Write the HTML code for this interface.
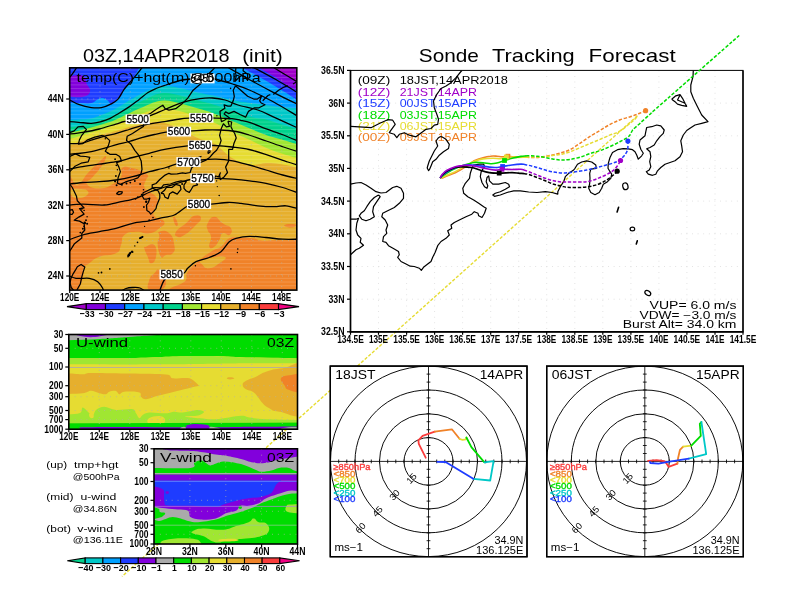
<!DOCTYPE html>
<html lang="en"><head><meta charset="utf-8"><title>Sonde Tracking Forecast</title>
<style>
html,body{margin:0;padding:0;background:#fff;}
body{width:792px;height:612px;overflow:hidden;}
svg{display:block;font-family:"Liberation Sans",sans-serif;}
</style></head><body>
<svg width="792" height="612" viewBox="0 0 792 612">
<defs>
<clipPath id="c1"><rect x="69.7" y="67.8" width="227.1" height="222.3"/></clipPath>
<clipPath id="c2"><rect x="68.8" y="334.5" width="228.7" height="94.7"/></clipPath>
<clipPath id="c3"><rect x="154.0" y="448.8" width="143.5" height="95.2"/></clipPath>
<clipPath id="cm"><rect x="350.5" y="70.4" width="392.5" height="261.4"/></clipPath>
<clipPath id="ch1"><rect x="330.3" y="366.1" width="196.7" height="190.6"/></clipPath>
<clipPath id="ch2"><rect x="546.7" y="366.1" width="196.6" height="190.6"/></clipPath>
</defs>
<path d="M637.5,115.7 L122,576.5" fill="none" stroke="#e6dc32" stroke-width="1.4" stroke-dasharray="3.2 1.7"/>
<rect x="69.7" y="67.8" width="227.1" height="222.3" fill="#e6af2d" stroke="none" stroke-width="1.5"/>
<g clip-path="url(#c1)">
<path d="M66.0,146.5 C68.1,145.8 74.4,143.5 78.6,142.0 C82.8,140.5 86.8,139.0 91.0,137.7 C95.2,136.4 99.8,135.1 104.0,134.0 C108.2,132.9 109.7,132.7 116.0,131.0 C122.3,129.3 133.8,125.3 142.0,124.0 C150.2,122.7 155.3,120.5 165.0,123.0 C174.7,125.5 191.7,135.5 200.0,139.0 C208.3,142.5 209.7,140.8 215.0,144.0 C220.3,147.2 226.2,154.5 232.0,158.0 C237.8,161.5 244.3,164.2 250.0,165.0 C255.7,165.8 261.0,163.2 266.0,163.0 C271.0,162.8 274.3,163.2 280.0,164.0 C285.7,164.8 296.7,167.3 300.0,168.0 L300,60 L66,60Z" fill="#e6dc32"/>
<path d="M66.0,140.0 C68.1,139.4 74.4,137.6 78.6,136.4 C82.8,135.2 86.8,133.9 91.0,132.6 C95.2,131.3 99.8,130.2 104.0,128.8 C108.2,127.4 109.7,126.5 116.0,124.0 C122.3,121.5 133.8,116.1 142.0,113.5 C150.2,110.9 155.3,107.9 165.0,108.5 C174.7,109.1 191.7,114.6 200.0,117.0 C208.3,119.4 209.7,120.5 215.0,123.0 C220.3,125.5 226.2,129.2 232.0,132.0 C237.8,134.8 244.3,137.4 250.0,140.0 C255.7,142.6 261.0,145.6 266.0,147.8 C271.0,150.0 274.3,151.1 280.0,153.0 C285.7,154.9 296.7,158.0 300.0,159.0 L300,60 L66,60Z" fill="#a0e632"/>
<path d="M66.0,133.5 C68.1,133.0 74.4,131.7 78.6,130.7 C82.8,129.7 86.8,128.8 91.0,127.6 C95.2,126.4 99.8,125.1 104.0,123.8 C108.2,122.5 109.7,122.2 116.0,119.5 C122.3,116.8 133.8,110.7 142.0,107.5 C150.2,104.3 155.3,100.2 165.0,100.5 C174.7,100.8 191.7,106.8 200.0,109.0 C208.3,111.2 209.7,112.0 215.0,114.0 C220.3,116.0 226.2,118.6 232.0,121.0 C237.8,123.4 244.3,126.2 250.0,128.5 C255.7,130.8 261.0,133.2 266.0,134.9 C271.0,136.7 274.3,137.3 280.0,139.0 C285.7,140.7 296.7,144.0 300.0,145.0 L300,60 L66,60Z" fill="#00d28c"/>
<path d="M66.0,128.0 C68.1,127.6 74.4,126.5 78.6,125.7 C82.8,125.0 86.8,124.5 91.0,123.5 C95.2,122.5 99.8,121.0 104.0,119.5 C108.2,118.0 109.7,117.6 116.0,114.5 C122.3,111.4 133.8,104.6 142.0,101.0 C150.2,97.4 155.3,93.0 165.0,93.0 C174.7,93.0 191.7,99.0 200.0,101.0 C208.3,103.0 209.7,103.3 215.0,105.0 C220.3,106.7 226.2,109.0 232.0,111.0 C237.8,113.0 244.3,115.6 250.0,117.0 C255.7,118.4 261.0,118.2 266.0,119.4 C271.0,120.6 274.3,122.2 280.0,124.0 C285.7,125.8 296.7,129.0 300.0,130.0 L300,60 L66,60Z" fill="#00c8c8"/>
<path d="M66.0,120.0 C68.1,119.9 74.4,119.8 78.6,119.5 C82.8,119.2 86.8,119.4 91.0,118.5 C95.2,117.6 99.8,115.7 104.0,114.0 C108.2,112.3 109.7,111.9 116.0,108.5 C122.3,105.1 133.8,97.2 142.0,93.5 C150.2,89.8 155.3,86.1 165.0,86.0 C174.7,85.9 191.7,91.3 200.0,93.0 C208.3,94.7 209.7,94.8 215.0,96.0 C220.3,97.2 226.2,98.8 232.0,100.0 C237.8,101.2 244.3,102.2 250.0,103.0 C255.7,103.8 261.0,104.3 266.0,105.0 C271.0,105.7 274.3,106.4 280.0,107.0 C285.7,107.6 296.7,108.2 300.0,108.5 L300,60 L66,60Z" fill="#00a0ff"/>
<path d="M66.0,101.9 C68.5,102.1 77.0,102.9 81.2,103.1 C85.4,103.3 88.6,103.7 91.3,103.1 C94.0,102.5 95.7,100.2 97.6,99.4 C99.5,98.6 100.9,97.9 102.6,98.1 C104.3,98.3 106.2,99.5 107.7,100.6 C109.2,101.6 109.8,104.6 111.5,104.4 C113.2,104.2 116.1,100.9 117.8,99.4 C119.5,97.9 120.5,97.3 121.6,95.6 C122.6,93.9 122.4,91.8 124.1,89.3 C125.8,86.8 129.3,83.8 131.7,80.4 C134.1,77.0 137.0,71.7 138.6,69.0 C140.2,66.3 140.6,64.8 141.0,64.0 L66,64Z" fill="#1e3cff"/>
<path d="M66.0,76.6 C68.3,76.3 76.8,74.8 80.0,75.0 C83.2,75.2 83.9,76.5 85.0,78.0 C86.1,79.5 86.0,82.3 86.8,84.2 C87.6,86.1 89.7,87.6 90.0,89.3 C90.3,91.0 90.0,93.0 88.7,94.3 C87.4,95.6 84.9,96.5 82.4,97.0 C79.9,97.5 76.3,97.1 73.6,97.0 C70.9,96.9 67.3,96.3 66.0,96.2Z" fill="#8200dc"/>
<path d="M235.0,64.0 C237.5,65.3 244.8,69.2 250.0,72.0 C255.2,74.8 261.0,77.9 266.0,80.7 C271.0,83.5 274.3,85.5 280.0,89.0 C285.7,92.5 296.7,99.8 300.0,102.0 L300,64Z" fill="#1e3cff"/>
<path d="M252.0,64.0 C255.8,66.2 269.5,73.7 275.0,77.0 C280.5,80.3 280.8,81.5 285.0,84.0 C289.2,86.5 297.5,90.7 300.0,92.0 L300,64Z" fill="#8200dc"/>
<path d="M268.0,64.0 C270.8,65.7 279.7,70.8 285.0,74.0 C290.3,77.2 297.5,81.5 300.0,83.0 L300,64Z" fill="#a000c8"/>
<path d="M66.0,188.0 C69.2,158.9 72.2,188.9 78.0,185.0 C83.8,181.1 82.0,179.5 87.7,173.3 C93.4,167.1 94.4,166.1 99.3,161.7 C104.2,157.3 105.5,155.3 106.0,156.7 C106.5,158.1 104.5,161.6 101.0,167.0 C97.5,172.4 96.4,172.5 92.7,177.0 C89.0,181.5 85.1,180.9 87.0,184.0 C88.9,187.1 92.7,188.7 100.0,188.5 C107.3,188.3 108.7,186.4 114.3,183.3 C119.9,180.2 118.8,180.9 121.0,176.7 C123.2,172.5 119.6,169.7 122.7,167.5 C125.8,165.3 127.8,167.4 132.7,168.3 C137.6,169.2 137.0,169.2 141.0,171.0 C145.0,172.8 146.4,172.6 147.7,175.0 C149.0,177.4 146.9,176.9 146.0,180.0 C145.1,183.1 143.4,183.6 144.3,186.7 C145.2,189.8 146.2,189.0 149.3,191.7 C152.4,194.4 153.8,193.6 156.0,196.7 C158.2,199.8 158.2,199.8 157.7,203.3 C157.2,206.8 155.0,206.4 154.3,210.0 C153.6,213.6 152.3,213.6 155.0,216.7 C157.7,219.8 163.2,218.6 164.3,221.7 C165.4,224.8 163.3,225.2 159.3,228.3 C155.3,231.4 155.5,232.4 149.3,233.3 C143.1,234.2 142.7,231.2 136.0,231.7 C129.3,232.2 128.3,231.5 124.3,235.0 C120.3,238.5 123.2,240.1 121.0,245.0 C118.8,249.9 121.8,250.2 116.0,253.3 C110.2,256.4 106.4,254.0 99.3,256.7 C92.2,259.4 93.4,260.3 89.3,263.3 C85.2,266.3 85.7,264.3 84.0,268.0 C82.3,271.7 84.2,271.7 83.0,277.0 C81.8,282.3 80.8,283.5 79.5,288.0 C78.2,292.5 81.6,292.4 78.0,294.0 C74.4,295.6 69.2,322.3 66.0,294.0 C62.8,265.7 62.8,217.1 66.0,188.0Z" fill="#f08228"/>
<path d="M146.0,246.7 C148.7,245.8 151.6,242.3 154.3,245.0 C157.0,247.7 156.9,251.8 156.0,256.7 C155.1,261.6 153.2,263.3 151.0,263.3 C148.8,263.3 149.5,260.7 147.7,256.7 C145.9,252.7 144.8,251.0 144.3,248.3 C143.8,245.6 143.3,247.6 146.0,246.7Z" fill="#f08228"/>
<path d="M159.3,231.7 C162.0,230.8 165.3,229.8 169.3,233.3 C173.3,236.8 173.4,239.7 174.3,245.0 C175.2,250.3 174.9,250.6 172.7,253.3 C170.5,256.0 169.1,254.1 166.0,255.0 C162.9,255.9 163.2,259.4 161.0,256.7 C158.8,254.0 158.2,250.3 157.7,245.0 C157.2,239.7 158.9,240.2 159.3,236.7 C159.7,233.2 156.6,232.6 159.3,231.7Z" fill="#f08228"/>
<path d="M174.3,216.7 C175.4,217.6 177.2,220.9 177.7,223.3 C178.2,225.7 177.1,226.7 176.0,225.8 C174.9,224.9 174.0,222.4 173.5,220.0 C173.0,217.6 173.2,215.8 174.3,216.7Z" fill="#f08228"/>
<path d="M176.0,231.7 C178.2,228.1 181.1,227.5 186.0,223.3 C190.9,219.1 190.3,217.1 194.3,215.8 C198.3,214.5 201.0,215.4 201.0,218.3 C201.0,221.2 198.8,222.2 194.3,226.7 C189.8,231.2 188.7,232.3 184.3,235.0 C179.9,237.7 179.9,237.6 177.7,236.7 C175.5,235.8 173.8,235.3 176.0,231.7Z" fill="#f08228"/>
<path d="M207.7,223.3 C209.5,219.8 210.3,216.7 214.3,216.7 C218.3,216.7 218.2,220.2 222.7,223.3 C227.2,226.4 229.2,225.2 231.0,228.3 C232.8,231.4 231.5,233.7 229.3,235.0 C227.1,236.3 225.4,232.0 222.7,233.3 C220.0,234.6 221.5,236.4 219.3,240.0 C217.1,243.6 217.0,244.9 214.3,246.7 C211.6,248.5 210.2,249.4 209.3,246.7 C208.4,244.0 211.4,241.2 211.0,236.7 C210.6,232.2 208.6,233.6 207.7,230.0 C206.8,226.4 205.9,226.8 207.7,223.3Z" fill="#f08228"/>
<path d="M149.3,280.0 C150.6,275.5 151.6,276.0 154.3,273.3 C157.0,270.6 156.2,268.2 159.3,270.0 C162.4,271.8 165.5,274.7 166.0,280.0 C166.5,285.3 165.5,287.3 161.0,290.0 C156.5,292.7 152.4,292.7 149.3,290.0 C146.2,287.3 148.0,284.5 149.3,280.0Z" fill="#f08228"/>
<path d="M181.0,294.0 C150.1,290.3 184.2,285.9 186.0,280.0 C187.8,274.1 184.6,276.6 187.7,271.7 C190.8,266.8 191.5,267.0 197.7,261.7 C203.9,256.4 204.8,255.7 211.0,251.7 C217.2,247.7 216.1,250.3 221.0,246.7 C225.9,243.1 224.4,240.8 229.3,238.3 C234.2,235.8 233.1,237.5 239.3,237.5 C245.5,237.5 246.5,237.4 252.7,238.3 C258.9,239.2 257.4,240.2 262.7,240.7 C268.0,241.2 267.6,240.4 272.7,240.3 C277.8,240.2 276.9,240.3 282.0,240.3 C287.1,240.3 286.7,240.3 292.0,240.3 C297.3,240.3 299.3,226.0 302.0,240.3 C304.7,254.6 334.3,279.7 302.0,294.0 C269.7,308.3 211.9,297.7 181.0,294.0Z" fill="#f08228"/>
<path d="M284.3,225.0 C285.2,224.1 289.6,223.7 292.7,224.0 C295.8,224.3 296.9,225.1 296.0,226.0 C295.1,226.9 292.4,227.8 289.3,227.5 C286.2,227.2 283.4,225.9 284.3,225.0Z" fill="#f08228"/>
<path d="M71.0,190.0 C73.1,188.1 75.5,188.7 80.0,189.0 C84.5,189.3 86.1,189.1 87.7,191.0 C89.3,192.9 88.6,194.1 86.0,196.0 C83.4,197.9 81.7,198.0 78.0,198.0 C74.3,198.0 73.9,198.1 72.0,196.0 C70.1,193.9 68.9,191.9 71.0,190.0Z" fill="#e6af2d"/>
<path d="M202.7,260.0 C208.5,257.8 219.9,255.8 224.3,256.7 C228.7,257.6 223.3,260.2 219.3,263.3 C215.3,266.4 213.7,267.8 209.3,268.3 C204.9,268.8 204.5,267.2 202.7,265.0 C200.9,262.8 196.9,262.2 202.7,260.0Z" fill="#e6af2d"/>
<path d="M69.7,70.00H296.8M69.7,73.72H296.8M69.7,77.44H296.8M69.7,81.16H296.8M69.7,84.88H296.8M69.7,88.60H296.8M69.7,92.32H296.8M69.7,96.04H296.8M69.7,99.76H296.8M69.7,103.48H296.8M69.7,107.20H296.8M69.7,110.92H296.8M69.7,114.64H296.8M69.7,118.36H296.8M69.7,122.08H296.8M69.7,125.80H296.8M69.7,129.52H296.8M69.7,133.24H296.8M69.7,136.96H296.8M69.7,140.68H296.8M69.7,144.40H296.8M69.7,148.12H296.8M69.7,151.84H296.8M69.7,155.56H296.8M69.7,159.28H296.8M69.7,163.00H296.8M69.7,166.72H296.8M69.7,170.44H296.8M69.7,174.16H296.8M69.7,177.88H296.8M69.7,181.60H296.8M69.7,185.32H296.8M69.7,189.04H296.8M69.7,192.76H296.8M69.7,196.48H296.8M69.7,200.20H296.8M69.7,203.92H296.8M69.7,207.64H296.8M69.7,211.36H296.8M69.7,215.08H296.8M69.7,218.80H296.8M69.7,222.52H296.8M69.7,226.24H296.8M69.7,229.96H296.8M69.7,233.68H296.8M69.7,237.40H296.8M69.7,241.12H296.8M69.7,244.84H296.8M69.7,248.56H296.8M69.7,252.28H296.8M69.7,256.00H296.8M69.7,259.72H296.8M69.7,263.44H296.8M69.7,267.16H296.8M69.7,270.88H296.8M69.7,274.60H296.8M69.7,278.32H296.8M69.7,282.04H296.8M69.7,285.76H296.8M69.7,289.48H296.8" stroke="#fff" stroke-opacity="0.33" stroke-width="0.5" fill="none"/>
<path d="M69.7,99.0H296.8M69.7,134.4H296.8M69.7,169.8H296.8M69.7,205.2H296.8M69.7,240.6H296.8M69.7,276.0H296.8M100.0,67.8V290.1M130.3,67.8V290.1M160.5,67.8V290.1M190.8,67.8V290.1M221.1,67.8V290.1M251.4,67.8V290.1M281.7,67.8V290.1" stroke="#b4b4a4" stroke-opacity="0.8" stroke-width="0.9" stroke-dasharray="0.9 5" fill="none"/>
<path d="M159.3,292.0 C160.1,290.0 162.2,282.9 164.3,280.0 C166.4,277.1 168.8,275.6 172.0,274.5 C175.2,273.4 180.9,274.3 183.5,273.3 C186.1,272.3 185.6,270.2 187.7,268.3 C189.8,266.4 192.4,263.5 196.0,261.7 C199.6,259.9 205.1,259.2 209.3,257.5 C213.5,255.8 217.7,254.3 221.0,251.7 C224.3,249.1 226.8,243.9 229.3,241.7 C231.8,239.5 232.7,239.2 236.0,238.3 C239.3,237.4 244.3,236.4 249.3,236.3 C254.3,236.2 260.4,237.0 266.0,237.5 C271.6,238.0 277.2,238.9 282.7,239.2 C288.2,239.5 296.3,239.2 299.0,239.2" fill="none" stroke="#000" stroke-width="1.3"/>
<path d="M66.0,274.5 C67.7,275.1 72.1,277.7 76.0,278.3 C79.9,278.9 85.7,277.7 89.3,278.3 C92.9,278.9 95.5,280.0 97.7,281.7 C99.9,283.4 101.7,286.4 102.7,288.3 C103.8,290.2 103.8,292.2 104.0,293.0" fill="none" stroke="#000" stroke-width="1.3"/>
<path d="M120.0,292.0 C121.0,291.4 123.9,289.2 126.0,288.5 C128.1,287.8 130.4,287.6 132.7,287.5 C135.0,287.4 137.8,287.2 140.0,288.0 C142.2,288.8 145.0,291.3 146.0,292.0" fill="none" stroke="#000" stroke-width="1.3"/>
<path d="M66.0,241.0 C68.8,240.0 77.2,236.6 82.7,235.0 C88.2,233.4 93.8,232.8 99.3,231.7 C104.8,230.6 110.4,229.7 116.0,228.3 C121.6,226.9 127.1,224.6 132.7,223.3 C138.2,222.1 144.9,221.6 149.3,220.8 C153.7,220.0 155.1,219.3 159.3,218.3 C163.5,217.3 169.6,217.1 174.3,215.0 C179.0,212.9 183.6,207.8 187.7,206.0 C191.8,204.2 195.1,204.3 199.0,204.0 C202.9,203.7 206.2,204.4 211.0,204.2 C215.8,203.9 222.7,202.7 227.7,202.5 C232.7,202.3 236.0,202.8 241.0,203.3 C246.0,203.9 252.1,205.2 257.7,205.8 C263.2,206.4 269.6,206.7 274.3,206.7 C279.0,206.7 281.9,205.5 286.0,205.8 C290.1,206.2 296.8,208.3 299.0,208.8" fill="none" stroke="#000" stroke-width="1.3"/>
<path d="M66.0,205.3 C68.8,205.1 76.3,204.2 82.7,204.2 C89.1,204.1 97.9,205.4 104.3,205.0 C110.7,204.6 115.7,202.8 121.0,201.7 C126.3,200.6 131.2,199.9 136.0,198.3 C140.8,196.7 145.2,193.9 150.0,192.0 C154.8,190.1 160.0,188.6 165.0,187.0 C170.0,185.4 175.8,183.8 180.0,182.5 C184.2,181.2 186.8,180.2 190.5,179.5 C194.2,178.8 198.5,178.7 202.5,178.5 C206.5,178.3 209.3,178.2 214.3,178.3 C219.3,178.4 226.9,178.8 232.7,179.2 C238.5,179.6 243.8,180.1 249.3,180.8 C254.9,181.5 260.4,182.2 266.0,183.3 C271.6,184.4 277.2,185.8 282.7,187.5 C288.2,189.2 296.3,192.3 299.0,193.3" fill="none" stroke="#000" stroke-width="1.3"/>
<path d="M66.0,184.6 C68.8,184.2 77.2,183.0 82.7,182.5 C88.2,182.0 93.8,182.1 99.3,181.7 C104.8,181.3 110.4,180.8 116.0,180.0 C121.6,179.2 127.1,178.1 132.7,176.7 C138.2,175.3 143.8,173.2 149.3,171.7 C154.9,170.2 161.6,168.8 166.0,167.5 C170.4,166.2 172.2,165.1 176.0,164.2 C179.8,163.3 184.3,162.7 188.5,162.0 C192.7,161.3 196.4,160.5 201.0,160.0 C205.6,159.5 210.7,159.1 216.0,159.2 C221.3,159.3 227.1,159.8 232.7,160.8 C238.2,161.8 243.8,163.5 249.3,165.0 C254.9,166.5 260.4,168.3 266.0,170.0 C271.6,171.7 277.2,173.5 282.7,175.0 C288.2,176.5 296.3,178.3 299.0,179.0" fill="none" stroke="#000" stroke-width="1.3"/>
<path d="M66.0,169.8 C68.8,169.3 77.2,167.6 82.7,166.7 C88.2,165.8 93.8,165.0 99.3,164.2 C104.8,163.4 110.4,162.8 116.0,161.7 C121.6,160.6 127.1,158.9 132.7,157.5 C138.2,156.1 143.8,154.7 149.3,153.3 C154.9,151.9 159.6,150.4 166.0,149.2 C172.4,147.9 182.0,146.5 187.7,145.8 C193.4,145.2 195.4,145.4 200.0,145.3 C204.6,145.2 209.7,145.2 215.0,145.5 C220.3,145.8 226.3,146.3 232.0,147.0 C237.7,147.7 243.3,148.2 249.0,149.5 C254.7,150.8 259.8,152.5 266.3,154.6 C272.8,156.7 282.4,160.2 287.8,162.0 C293.2,163.8 297.1,164.9 299.0,165.5" fill="none" stroke="#000" stroke-width="1.3"/>
<path d="M66.0,154.3 C66.7,154.3 68.3,154.2 70.4,154.1 C72.5,154.0 75.1,153.9 78.6,153.5 C82.1,153.1 87.1,152.4 91.3,151.6 C95.5,150.8 99.7,149.6 103.9,148.4 C108.1,147.2 112.3,145.8 116.5,144.6 C120.7,143.4 124.9,142.7 129.1,141.5 C133.3,140.3 137.6,138.9 141.8,137.7 C146.0,136.5 150.4,135.4 154.4,134.5 C158.4,133.6 161.9,132.7 166.0,132.2 C170.1,131.7 175.0,131.7 179.0,131.5 C183.0,131.3 185.7,131.2 190.0,131.0 C194.3,130.8 200.0,130.2 205.0,130.0 C210.0,129.8 214.8,129.8 220.0,130.0 C225.2,130.2 231.2,130.7 236.0,131.5 C240.8,132.3 243.9,133.4 249.0,135.0 C254.1,136.6 260.6,139.0 266.3,141.0 C272.1,143.0 278.1,145.2 283.5,147.0 C288.9,148.8 296.4,151.2 299.0,152.0" fill="none" stroke="#000" stroke-width="1.3"/>
<path d="M66.0,143.9 C66.7,143.9 67.7,143.8 70.4,143.7 C73.1,143.6 78.9,143.7 82.4,143.1 C85.9,142.5 87.7,141.3 91.3,140.2 C94.9,139.1 99.7,137.6 103.9,136.4 C108.1,135.2 112.3,134.5 116.5,133.3 C120.7,132.2 124.9,130.8 129.1,129.5 C133.3,128.2 137.6,126.8 141.8,125.7 C146.0,124.7 150.4,123.9 154.4,123.2 C158.4,122.5 161.7,122.0 166.0,121.3 C170.3,120.6 176.1,119.5 180.0,119.0 C183.9,118.5 185.8,118.4 189.3,118.2 C192.8,118.0 197.1,117.8 201.0,117.8 C204.9,117.8 207.8,117.9 213.0,118.0 C218.2,118.1 227.4,118.2 232.0,118.6 C236.6,119.0 237.4,119.6 240.6,120.3 C243.8,121.0 246.6,121.5 250.9,122.9 C255.2,124.3 260.9,126.9 266.3,128.9 C271.7,130.9 278.1,132.9 283.5,135.0 C288.9,137.1 296.4,140.4 299.0,141.5" fill="none" stroke="#000" stroke-width="1.3"/>
<path d="M66.0,134.5 C68.8,134.1 77.2,133.2 82.7,132.3 C88.2,131.4 93.8,130.4 99.3,129.0 C104.8,127.6 111.8,125.2 116.0,124.0 C120.2,122.8 120.7,122.3 124.3,121.5 C127.9,120.7 133.5,119.9 137.7,119.0 C141.9,118.1 144.6,117.7 149.3,116.0 C154.0,114.3 160.4,111.3 166.0,109.0 C171.6,106.7 177.0,104.0 182.7,102.3 C188.4,100.6 195.0,99.3 200.0,98.6 C205.0,97.9 208.4,97.8 212.6,98.0 C216.8,98.2 220.8,98.8 225.0,100.0 C229.2,101.2 232.5,103.3 238.0,105.0 C243.5,106.7 251.6,107.9 257.8,110.0 C264.0,112.1 268.1,114.6 275.0,117.7 C281.9,120.8 295.0,126.7 299.0,128.5" fill="none" stroke="#000" stroke-width="1.3"/>
<path d="M66.0,121.3 C68.1,121.5 74.4,122.0 78.6,122.3 C82.8,122.6 87.5,123.4 91.3,123.3 C95.1,123.2 98.2,122.3 101.4,121.5 C104.6,120.7 107.3,119.7 110.2,118.3 C113.1,116.9 115.8,115.1 119.0,113.2 C122.2,111.3 125.7,109.2 129.1,106.9 C132.5,104.6 136.0,101.8 139.2,99.4 C142.3,97.0 145.2,94.3 148.0,92.5 C150.8,90.7 153.0,89.8 156.0,88.5 C159.0,87.2 162.0,86.3 166.0,85.0 C170.0,83.7 175.8,81.5 180.0,80.5 C184.2,79.5 187.2,79.4 191.0,79.0 C194.8,78.6 198.6,78.3 202.5,78.3 C206.4,78.3 209.3,78.0 214.3,79.0 C219.3,80.0 226.9,82.2 232.7,84.0 C238.5,85.8 242.6,87.0 249.3,90.0 C256.1,93.0 264.9,97.3 273.2,101.8 C281.5,106.3 294.7,114.5 299.0,117.0" fill="none" stroke="#000" stroke-width="1.3"/>
<path d="M66.0,98.0 C66.6,98.3 67.7,98.9 69.8,100.0 C71.9,101.1 75.0,103.1 78.6,104.4 C82.2,105.7 87.5,107.1 91.3,107.6 C95.1,108.1 98.2,108.1 101.4,107.6 C104.6,107.1 107.5,105.8 110.2,104.4 C112.9,103.0 115.5,101.9 117.8,99.4 C120.1,96.9 121.8,92.5 124.1,89.3 C126.4,86.1 129.4,83.2 131.7,80.4 C134.0,77.7 135.8,75.5 138.0,72.8 C140.2,70.1 143.8,65.5 145.0,64.0" fill="none" stroke="#000" stroke-width="1.3"/>
<path d="M222.0,64.0 C224.3,65.3 231.5,69.4 236.0,72.0 C240.5,74.6 243.0,76.1 249.2,79.5 C255.4,82.9 264.9,88.0 273.2,92.3 C281.5,96.5 294.7,102.9 299.0,105.0" fill="none" stroke="#000" stroke-width="1.3"/>
<path d="M247.0,64.0 C251.8,66.6 267.1,74.6 275.8,79.5 C284.5,84.4 295.1,91.2 299.0,93.5" fill="none" stroke="#000" stroke-width="1.3"/>
<path d="M268.0,64.0 C270.8,65.8 279.8,71.3 285.0,74.5 C290.2,77.7 296.7,81.6 299.0,83.0" fill="none" stroke="#000" stroke-width="1.3"/>
<path d="M66.0,80.0 C66.6,79.5 68.5,78.6 69.7,77.3 C71.0,76.0 72.0,74.5 73.5,72.3 C75.0,70.1 78.1,65.4 79.0,64.0" fill="none" stroke="#000" stroke-width="1.3"/>
<path d="M69.7,132.6 L74.2,130.9 L78.0,126.9 L83.3,126.4 L86.4,129.5 L81.8,135.3 L79.5,139.7 L78.4,144.1 L82.6,143.7 L87.1,140.2 L94.7,137.1 L102.3,135.3" fill="none" stroke="#000" stroke-width="1.25" stroke-linejoin="round"/>
<path d="M102.3,135.3 L106.8,137.9 L109.8,140.6 L108.3,145.9 L105.3,151.2 L109.8,154.3 L115.9,154.3 L119.7,156.5 L121.6,160.9 L116.6,162.7 L118.9,167.1 L120.4,171.6 L118.1,177.8 L117.4,183.1 L120.4,184.4 L125.0,182.2 L128.7,180.9 L133.3,179.5 L137.8,177.8 L140.9,174.2 L142.0,169.4 L141.2,160.9 L138.6,155.2 L134.8,150.3 L131.0,144.1 L126.5,140.6 L127.2,136.2 L132.5,133.5 L139.3,129.1 L143.5,126.4 L143.9,121.1 L147.7,114.9 L150.7,113.2 L154.5,110.5 L159.8,107.0 L162.8,105.2 L165.1,108.7 L168.9,110.1 L175.7,108.7 L182.5,103.4 L187.8,98.1 L193.1,90.2 L198.4,85.7 L203.7,81.3 L208.2,74.2 L212.8,69.8 L216.6,65.4" fill="none" stroke="#000" stroke-width="1.25" stroke-linejoin="round"/>
<path d="M69.7,156.5 L75.4,153.9 L80.3,156.1 L85.6,156.5 L89.8,157.4 L88.2,161.8 L81.1,163.2 L75.0,166.3 L72.0,169.4 L69.7,171.6" fill="none" stroke="#000" stroke-width="1.25" stroke-linejoin="round"/>
<path d="M69.7,184.0 L72.3,187.5 L76.5,196.3 L77.3,200.8 L84.1,207.9 L79.5,208.7 L84.1,214.1 L78.8,217.1 L74.2,220.2 L79.5,221.1 L84.1,223.8 L84.8,230.0 L81.8,233.5 L81.8,237.9 L77.3,241.5 L74.2,244.1 L72.0,247.7 L69.7,251.2" fill="none" stroke="#000" stroke-width="1.25" stroke-linejoin="round"/>
<path d="M77.3,266.7 L81.1,264.5 L84.8,267.1 L83.3,271.6 L81.8,276.9 L80.3,284.0 L77.3,289.3 L76.1,294.6 L74.2,291.0 L71.2,287.5 L70.1,283.1 L70.8,278.7 L73.1,273.8 L75.4,270.2 L77.3,266.7" fill="none" stroke="#000" stroke-width="1.25" stroke-linejoin="round"/>
<path d="M116.3,193.7 L118.9,191.5 L122.3,191.9 L121.6,193.7 L118.9,194.6 L116.3,193.7" fill="none" stroke="#000" stroke-width="1.25" stroke-linejoin="round"/>
<path d="M236.2,63.6 L235.5,72.5 L236.2,76.0 L235.1,81.3 L237.8,78.6 L241.5,75.5 L245.3,76.9 L247.6,80.4 L247.6,74.2 L243.1,70.7 L243.8,63.6" fill="none" stroke="#000" stroke-width="1.25" stroke-linejoin="round"/>
<path d="M235.5,85.7 L233.2,90.2 L234.3,96.3 L233.2,100.8 L230.9,106.1 L227.9,106.1 L224.1,104.8 L224.9,108.3 L220.0,111.4 L220.3,115.8 L221.5,121.6 L224.5,120.2 L226.8,118.5 L230.2,118.5 L227.9,116.7 L224.1,114.0 L225.6,111.8 L228.7,113.6 L234.0,111.4 L240.0,114.5 L245.7,117.1 L248.4,111.4 L254.4,107.8 L259.0,107.8 L265.0,104.8 L261.2,103.0 L259.7,100.8 L261.6,95.9 L257.4,99.0 L253.7,99.0 L247.6,96.3 L240.8,90.2 L235.5,85.7" fill="none" stroke="#000" stroke-width="1.25" stroke-linejoin="round"/>
<path d="M262.7,100.8 L268.0,95.5 L270.3,94.6" fill="none" stroke="#000" stroke-width="1.25" stroke-linejoin="round"/>
<path d="M273.3,94.6 L278.6,90.2 L283.2,87.5 L287.7,85.7" fill="none" stroke="#000" stroke-width="1.25" stroke-linejoin="round"/>
<path d="M293.0,84.0 L299.1,80.4" fill="none" stroke="#000" stroke-width="1.25" stroke-linejoin="round"/>
<path d="M227.9,121.1 L231.7,122.0 L230.9,126.4 L232.5,130.0 L234.7,133.5 L236.2,137.9 L234.0,143.2 L232.5,149.4 L228.7,149.4 L228.7,153.9 L228.7,160.9 L225.6,167.1 L227.5,172.5 L224.1,176.9 L220.3,179.5 L219.6,175.1 L220.3,172.9 L218.5,176.9 L215.8,176.0 L214.3,177.8 L213.2,181.7 L211.6,181.7 L212.0,177.8 L209.7,178.6 L207.5,182.2 L204.4,181.7 L199.1,182.2 L198.4,180.4 L196.9,178.6 L195.4,181.3 L197.6,184.8 L193.1,186.2 L190.8,190.2 L189.3,192.4 L186.3,191.0 L184.0,188.4 L184.0,184.8 L186.3,181.7 L181.0,180.9 L175.7,182.2 L170.4,184.0 L163.6,184.8 L161.3,187.9 L155.2,187.5 L152.2,187.9 L152.2,184.8 L156.0,183.5 L159.8,179.5 L165.1,175.1 L168.9,173.3 L171.1,174.2 L177.2,173.8 L182.5,172.9 L185.5,173.3 L190.1,172.5 L191.6,168.0 L195.4,164.5 L196.1,158.3 L201.0,156.5 L198.4,160.1 L199.9,162.7 L206.0,160.1 L209.7,157.4 L213.5,153.0 L216.6,150.3 L219.6,145.0 L221.1,140.6 L219.6,135.3 L221.1,129.1 L223.4,123.8 L226.4,126.9 L229.4,126.4 L227.9,121.1" fill="none" stroke="#000" stroke-width="1.25" stroke-linejoin="round"/>
<path d="M160.9,193.3 L164.3,190.6 L166.6,187.1 L171.9,187.5 L175.7,184.4 L180.2,185.7 L181.0,189.3 L177.2,194.1 L172.7,191.9 L169.6,193.7 L168.1,198.6 L165.1,197.2 L163.6,193.7 L160.9,193.3" fill="none" stroke="#000" stroke-width="1.25" stroke-linejoin="round"/>
<path d="M152.2,188.4 L146.9,191.0 L143.1,192.8 L142.4,196.3 L143.9,199.0 L146.9,199.0 L149.9,198.1 L148.4,202.5 L146.5,205.2 L146.9,210.5 L149.6,212.3 L150.7,214.1 L153.7,211.4 L156.0,208.7 L156.8,205.2 L159.8,198.1 L159.8,194.6 L158.3,191.0 L153.0,188.4 L152.2,188.4" fill="none" stroke="#000" stroke-width="1.25" stroke-linejoin="round"/>
<path d="M207.9,151.7 L209.7,149.4 L210.1,152.1 L208.2,153.4 L207.9,151.7" fill="none" stroke="#000" stroke-width="1.25" stroke-linejoin="round"/>
<path d="M69.7,210.1 L72.3,209.6 L73.5,212.3 L72.0,214.5 L69.7,214.1 L69.3,212.3 L69.7,210.1" fill="none" stroke="#000" stroke-width="1.25" stroke-linejoin="round"/>
<path d="M127.6,257.4 L129.5,253.9 L132.5,250.8" fill="none" stroke="#000" stroke-width="1.25" stroke-linejoin="round"/>
<path d="M139.3,238.8 L143.1,236.2" fill="none" stroke="#000" stroke-width="1.25" stroke-linejoin="round"/>
<circle cx="84.8" cy="222.9" r="1.3" fill="#000"/>
<circle cx="87.1" cy="223.8" r="1.0" fill="#000"/>
<circle cx="86.0" cy="220.2" r="0.9" fill="#000"/>
<circle cx="82.9" cy="228.7" r="1.0" fill="#000"/>
<circle cx="84.1" cy="226.4" r="0.9" fill="#000"/>
<circle cx="80.3" cy="232.6" r="0.9" fill="#000"/>
<circle cx="81.8" cy="208.7" r="1.0" fill="#000"/>
<circle cx="84.1" cy="210.5" r="0.8" fill="#000"/>
<circle cx="87.1" cy="216.7" r="0.7" fill="#000"/>
<circle cx="146.2" cy="201.7" r="1.2" fill="#000"/>
<circle cx="143.9" cy="207.0" r="0.9" fill="#000"/>
<circle cx="137.8" cy="197.2" r="0.9" fill="#000"/>
<circle cx="141.6" cy="194.6" r="0.8" fill="#000"/>
<circle cx="143.5" cy="189.7" r="0.8" fill="#000"/>
<circle cx="132.5" cy="252.1" r="1.0" fill="#000"/>
<circle cx="128.7" cy="255.2" r="1.3" fill="#000"/>
<circle cx="129.9" cy="253.4" r="1.2" fill="#000"/>
<circle cx="140.5" cy="237.9" r="1.2" fill="#000"/>
<circle cx="142.4" cy="237.1" r="1.0" fill="#000"/>
<circle cx="182.1" cy="184.0" r="1.0" fill="#000"/>
<circle cx="168.9" cy="168.0" r="0.8" fill="#000"/>
<circle cx="230.6" cy="88.4" r="0.8" fill="#000"/>
<circle cx="216.9" cy="115.8" r="0.7" fill="#000"/>
<circle cx="115.1" cy="159.2" r="0.9" fill="#000"/>
<circle cx="116.3" cy="165.4" r="0.8" fill="#000"/>
<circle cx="117.4" cy="169.8" r="0.7" fill="#000"/>
<circle cx="115.9" cy="176.0" r="0.9" fill="#000"/>
<circle cx="115.1" cy="181.3" r="1.1" fill="#000"/>
<circle cx="116.6" cy="185.3" r="1.0" fill="#000"/>
<circle cx="121.9" cy="184.8" r="1.0" fill="#000"/>
<circle cx="126.5" cy="183.5" r="1.0" fill="#000"/>
<circle cx="130.3" cy="182.6" r="0.9" fill="#000"/>
<circle cx="134.8" cy="180.9" r="1.0" fill="#000"/>
<circle cx="107.6" cy="153.0" r="0.8" fill="#000"/>
<circle cx="105.3" cy="138.8" r="0.7" fill="#000"/>
<circle cx="137.5" cy="242.4" r="0.8" fill="#000"/>
<circle cx="134.8" cy="245.9" r="0.7" fill="#000"/>
<circle cx="149.2" cy="220.2" r="0.9" fill="#000"/>
<circle cx="153.0" cy="217.6" r="0.8" fill="#000"/>
<circle cx="144.6" cy="226.4" r="0.6" fill="#000"/>
<circle cx="109.8" cy="268.9" r="0.9" fill="#000"/>
<circle cx="101.5" cy="272.5" r="0.9" fill="#000"/>
<circle cx="98.5" cy="272.9" r="0.8" fill="#000"/>
<circle cx="219.2" cy="195.5" r="0.8" fill="#000"/>
<circle cx="216.6" cy="180.9" r="0.7" fill="#000"/>
<circle cx="217.3" cy="186.6" r="0.6" fill="#000"/>
<circle cx="237.8" cy="249.0" r="0.8" fill="#000"/>
<circle cx="237.4" cy="252.5" r="0.7" fill="#000"/>
<circle cx="230.9" cy="268.9" r="0.8" fill="#000"/>
<circle cx="140.1" cy="184.0" r="0.9" fill="#000"/>
<circle cx="151.8" cy="156.5" r="0.8" fill="#000"/>
<circle cx="135.6" cy="199.0" r="0.8" fill="#000"/>
<circle cx="195.4" cy="265.8" r="0.7" fill="#000"/>
<rect x="125.6" y="114.4" width="24.2" height="9.8" fill="#fff" stroke="none" stroke-width="1.5"/>
<text x="137.7" y="123.1" font-size="10.8" text-anchor="middle" textLength="22.4" lengthAdjust="spacingAndGlyphs" stroke="#000" stroke-width="0.3">5500</text>
<rect x="189.2" y="112.9" width="24.2" height="9.8" fill="#fff" stroke="none" stroke-width="1.5"/>
<text x="201.3" y="121.6" font-size="10.8" text-anchor="middle" textLength="22.4" lengthAdjust="spacingAndGlyphs" stroke="#000" stroke-width="0.3">5550</text>
<rect x="166.9" y="126.7" width="24.2" height="9.8" fill="#fff" stroke="none" stroke-width="1.5"/>
<text x="179.0" y="135.4" font-size="10.8" text-anchor="middle" textLength="22.4" lengthAdjust="spacingAndGlyphs" stroke="#000" stroke-width="0.3">5600</text>
<rect x="187.9" y="140.4" width="24.2" height="9.8" fill="#fff" stroke="none" stroke-width="1.5"/>
<text x="200.0" y="149.1" font-size="10.8" text-anchor="middle" textLength="22.4" lengthAdjust="spacingAndGlyphs" stroke="#000" stroke-width="0.3">5650</text>
<rect x="176.4" y="157.1" width="24.2" height="9.8" fill="#fff" stroke="none" stroke-width="1.5"/>
<text x="188.5" y="165.8" font-size="10.8" text-anchor="middle" textLength="22.4" lengthAdjust="spacingAndGlyphs" stroke="#000" stroke-width="0.3">5700</text>
<rect x="190.4" y="173.4" width="24.2" height="9.8" fill="#fff" stroke="none" stroke-width="1.5"/>
<text x="202.5" y="182.1" font-size="10.8" text-anchor="middle" textLength="22.4" lengthAdjust="spacingAndGlyphs" stroke="#000" stroke-width="0.3">5750</text>
<rect x="186.9" y="199.1" width="24.2" height="9.8" fill="#fff" stroke="none" stroke-width="1.5"/>
<text x="199.0" y="207.8" font-size="10.8" text-anchor="middle" textLength="22.4" lengthAdjust="spacingAndGlyphs" stroke="#000" stroke-width="0.3">5800</text>
<rect x="159.5" y="269.6" width="24.2" height="9.8" fill="#fff" stroke="none" stroke-width="1.5"/>
<text x="171.6" y="278.3" font-size="10.8" text-anchor="middle" textLength="22.4" lengthAdjust="spacingAndGlyphs" stroke="#000" stroke-width="0.3">5850</text>
<rect x="190.4" y="73.6" width="24.2" height="9.8" fill="#fff" stroke="none" stroke-width="1.5"/>
<text x="202.5" y="82.3" font-size="10.8" text-anchor="middle" textLength="22.4" lengthAdjust="spacingAndGlyphs" stroke="#000" stroke-width="0.3">5450</text>
</g>
<rect x="69.7" y="67.8" width="227.1" height="222.3" fill="none" stroke="#000" stroke-width="1.6"/>
<line x1="66.2" y1="99.0" x2="69.7" y2="99.0" stroke="#000" stroke-width="1.2"/>
<text x="63.7" y="102.4" font-size="10" text-anchor="end" font-weight="bold" textLength="16.0" lengthAdjust="spacingAndGlyphs">44N</text>
<line x1="66.2" y1="134.4" x2="69.7" y2="134.4" stroke="#000" stroke-width="1.2"/>
<text x="63.7" y="137.8" font-size="10" text-anchor="end" font-weight="bold" textLength="16.0" lengthAdjust="spacingAndGlyphs">40N</text>
<line x1="66.2" y1="169.8" x2="69.7" y2="169.8" stroke="#000" stroke-width="1.2"/>
<text x="63.7" y="173.2" font-size="10" text-anchor="end" font-weight="bold" textLength="16.0" lengthAdjust="spacingAndGlyphs">36N</text>
<line x1="66.2" y1="205.2" x2="69.7" y2="205.2" stroke="#000" stroke-width="1.2"/>
<text x="63.7" y="208.6" font-size="10" text-anchor="end" font-weight="bold" textLength="16.0" lengthAdjust="spacingAndGlyphs">32N</text>
<line x1="66.2" y1="240.6" x2="69.7" y2="240.6" stroke="#000" stroke-width="1.2"/>
<text x="63.7" y="244.0" font-size="10" text-anchor="end" font-weight="bold" textLength="16.0" lengthAdjust="spacingAndGlyphs">28N</text>
<line x1="66.2" y1="276.0" x2="69.7" y2="276.0" stroke="#000" stroke-width="1.2"/>
<text x="63.7" y="279.4" font-size="10" text-anchor="end" font-weight="bold" textLength="16.0" lengthAdjust="spacingAndGlyphs">24N</text>
<line x1="69.7" y1="290.1" x2="69.7" y2="293.1" stroke="#000" stroke-width="1.2"/>
<text x="69.7" y="301.0" font-size="10" text-anchor="middle" font-weight="bold" textLength="19.2" lengthAdjust="spacingAndGlyphs">120E</text>
<line x1="100.0" y1="290.1" x2="100.0" y2="293.1" stroke="#000" stroke-width="1.2"/>
<text x="100.0" y="301.0" font-size="10" text-anchor="middle" font-weight="bold" textLength="19.2" lengthAdjust="spacingAndGlyphs">124E</text>
<line x1="130.3" y1="290.1" x2="130.3" y2="293.1" stroke="#000" stroke-width="1.2"/>
<text x="130.3" y="301.0" font-size="10" text-anchor="middle" font-weight="bold" textLength="19.2" lengthAdjust="spacingAndGlyphs">128E</text>
<line x1="160.5" y1="290.1" x2="160.5" y2="293.1" stroke="#000" stroke-width="1.2"/>
<text x="160.5" y="301.0" font-size="10" text-anchor="middle" font-weight="bold" textLength="19.2" lengthAdjust="spacingAndGlyphs">132E</text>
<line x1="190.8" y1="290.1" x2="190.8" y2="293.1" stroke="#000" stroke-width="1.2"/>
<text x="190.8" y="301.0" font-size="10" text-anchor="middle" font-weight="bold" textLength="19.2" lengthAdjust="spacingAndGlyphs">136E</text>
<line x1="221.1" y1="290.1" x2="221.1" y2="293.1" stroke="#000" stroke-width="1.2"/>
<text x="221.1" y="301.0" font-size="10" text-anchor="middle" font-weight="bold" textLength="19.2" lengthAdjust="spacingAndGlyphs">140E</text>
<line x1="251.4" y1="290.1" x2="251.4" y2="293.1" stroke="#000" stroke-width="1.2"/>
<text x="251.4" y="301.0" font-size="10" text-anchor="middle" font-weight="bold" textLength="19.2" lengthAdjust="spacingAndGlyphs">144E</text>
<line x1="281.7" y1="290.1" x2="281.7" y2="293.1" stroke="#000" stroke-width="1.2"/>
<text x="281.7" y="301.0" font-size="10" text-anchor="middle" font-weight="bold" textLength="19.2" lengthAdjust="spacingAndGlyphs">148E</text>
<text x="82.9" y="61.8" font-size="17.9" textLength="146.6" lengthAdjust="spacingAndGlyphs">03Z,14APR2018</text>
<text x="242.2" y="61.8" font-size="17.9" textLength="40.5" lengthAdjust="spacingAndGlyphs">(init)</text>
<text x="76.6" y="81.7" font-size="12.5" textLength="184.0" lengthAdjust="spacingAndGlyphs">temp(C)+hgt(m)@500hPa</text>
<path d="M67.0,306.6 L86.3,303.6 L86.3,309.6Z" fill="#a000c8" stroke="#000" stroke-width="1.1"/>
<rect x="86.3" y="303.6" width="19.2" height="6.0" fill="#8200dc" stroke="#000" stroke-width="1.1"/>
<rect x="105.5" y="303.6" width="19.2" height="6.0" fill="#1e3cff" stroke="#000" stroke-width="1.1"/>
<rect x="124.7" y="303.6" width="19.2" height="6.0" fill="#00a0ff" stroke="#000" stroke-width="1.1"/>
<rect x="144.0" y="303.6" width="19.2" height="6.0" fill="#00c8c8" stroke="#000" stroke-width="1.1"/>
<rect x="163.2" y="303.6" width="19.2" height="6.0" fill="#00d28c" stroke="#000" stroke-width="1.1"/>
<rect x="182.4" y="303.6" width="19.2" height="6.0" fill="#a0e632" stroke="#000" stroke-width="1.1"/>
<rect x="201.6" y="303.6" width="19.2" height="6.0" fill="#e6dc32" stroke="#000" stroke-width="1.1"/>
<rect x="220.8" y="303.6" width="19.2" height="6.0" fill="#e6af2d" stroke="#000" stroke-width="1.1"/>
<rect x="240.1" y="303.6" width="19.2" height="6.0" fill="#f08228" stroke="#000" stroke-width="1.1"/>
<rect x="259.3" y="303.6" width="19.2" height="6.0" fill="#fa3c3c" stroke="#000" stroke-width="1.1"/>
<path d="M299.0,306.6 L278.5,303.6 L278.5,309.6Z" fill="#f00082" stroke="#000" stroke-width="1.1"/>
<text x="87.1" y="317.0" font-size="9.6" text-anchor="middle" font-weight="bold" textLength="14.9" lengthAdjust="spacingAndGlyphs">−33</text>
<text x="106.3" y="317.0" font-size="9.6" text-anchor="middle" font-weight="bold" textLength="14.9" lengthAdjust="spacingAndGlyphs">−30</text>
<text x="125.5" y="317.0" font-size="9.6" text-anchor="middle" font-weight="bold" textLength="14.9" lengthAdjust="spacingAndGlyphs">−27</text>
<text x="144.8" y="317.0" font-size="9.6" text-anchor="middle" font-weight="bold" textLength="14.9" lengthAdjust="spacingAndGlyphs">−24</text>
<text x="164.0" y="317.0" font-size="9.6" text-anchor="middle" font-weight="bold" textLength="14.9" lengthAdjust="spacingAndGlyphs">−21</text>
<text x="183.2" y="317.0" font-size="9.6" text-anchor="middle" font-weight="bold" textLength="14.9" lengthAdjust="spacingAndGlyphs">−18</text>
<text x="202.4" y="317.0" font-size="9.6" text-anchor="middle" font-weight="bold" textLength="14.9" lengthAdjust="spacingAndGlyphs">−15</text>
<text x="221.6" y="317.0" font-size="9.6" text-anchor="middle" font-weight="bold" textLength="14.9" lengthAdjust="spacingAndGlyphs">−12</text>
<text x="240.9" y="317.0" font-size="9.6" text-anchor="middle" font-weight="bold" textLength="10.5" lengthAdjust="spacingAndGlyphs">−9</text>
<text x="260.1" y="317.0" font-size="9.6" text-anchor="middle" font-weight="bold" textLength="10.5" lengthAdjust="spacingAndGlyphs">−6</text>
<text x="279.3" y="317.0" font-size="9.6" text-anchor="middle" font-weight="bold" textLength="10.5" lengthAdjust="spacingAndGlyphs">−3</text>
<rect x="68.8" y="334.5" width="228.7" height="94.7" fill="#e6dc32" stroke="none" stroke-width="1.5"/>
<g clip-path="url(#c2)">
<path d="M60.0,330.0 L305.0,330.0 L305.0,358.5 C292.2,358.3 275.0,358.1 250.0,357.5 C225.0,356.9 226.0,355.9 198.0,356.0 C170.0,356.1 162.2,357.5 130.0,358.0 C97.8,358.5 76.3,358.2 60.0,358.3Z" fill="#00dc00"/>
<path d="M60.0,358.3 C76.3,358.2 97.8,358.5 130.0,358.0 C162.2,357.5 170.0,356.1 198.0,356.0 C226.0,355.9 225.0,356.9 250.0,357.5 C275.0,358.1 292.2,358.3 305.0,358.5 L305.0,363.3 C292.2,363.3 275.0,363.1 250.0,363.3 C225.0,363.5 226.0,363.7 198.0,364.0 C170.0,364.3 162.2,364.3 130.0,364.4 C97.8,364.5 76.3,364.3 60.0,364.3Z" fill="#a0e632"/>
<path d="M60.0,330.0 L170.0,330.0 L170.0,334.5 C165.3,334.7 159.8,334.9 150.0,335.5 C140.2,336.1 139.7,336.2 128.0,337.0 C116.3,337.8 115.9,338.2 100.0,339.0 C84.1,339.8 69.3,340.1 60.0,340.5Z" fill="#aaaaaa"/>
<path d="M76.0,333.0 C81.4,332.1 102.4,332.2 108.0,333.0 C113.6,333.8 105.4,335.4 100.0,336.3 C94.6,337.2 90.6,337.6 85.0,336.8 C79.4,336.0 70.6,333.9 76.0,333.0Z" fill="#8200dc"/>
<path d="M60.0,372.5 C63.8,372.8 77.5,374.1 82.7,374.2 C87.9,374.3 83.1,373.1 91.0,373.0 C98.9,372.9 117.5,373.3 130.0,373.6 C142.5,373.9 158.9,373.8 166.0,374.6 C173.1,375.4 168.8,377.7 172.7,378.3 C176.6,378.9 184.9,377.1 189.3,378.3 C193.7,379.5 197.4,384.4 199.0,385.6 L199.0,385.8 C194.9,386.8 181.2,390.0 174.3,391.7 C167.4,393.4 162.4,394.6 157.7,395.8 C153.0,397.1 148.8,399.1 146.0,399.2 C143.2,399.3 142.1,397.8 141.0,396.7 C139.9,395.6 142.1,393.3 139.3,392.5 C136.5,391.7 127.6,391.4 124.3,391.7 C121.0,392.0 120.7,394.3 119.3,394.2 C117.9,394.1 117.7,391.4 116.0,391.0 C114.3,390.6 111.0,391.2 109.3,391.7 C107.6,392.2 107.7,393.9 106.0,394.2 C104.3,394.5 101.8,393.9 99.3,393.3 C96.8,392.7 93.8,390.8 91.0,390.8 C88.2,390.8 87.9,392.7 82.7,393.3 C77.5,393.9 63.8,394.1 60.0,394.2Z" fill="#e6af2d"/>
<path d="M226.8,378.3 C226.8,377.8 228.2,377.3 230.0,377.3 C231.8,377.3 234.3,377.8 234.3,378.3 C234.3,378.8 231.8,379.4 230.0,379.4 C228.2,379.4 226.8,378.8 226.8,378.3Z" fill="#e6af2d"/>
<path d="M305.0,367.5 C299.8,357.4 291.8,367.3 282.7,368.3 C273.6,369.3 272.2,369.7 266.0,371.7 C259.8,373.7 260.7,374.6 256.0,376.7 C251.3,378.8 249.1,378.9 246.0,380.8 C242.9,382.7 242.7,383.0 242.7,385.0 C242.7,387.0 243.7,387.6 246.0,389.2 C248.3,390.8 250.0,389.9 252.7,391.7 C255.4,393.4 255.4,394.0 257.7,396.7 C260.0,399.4 260.0,400.6 262.7,403.3 C265.4,406.0 265.4,406.3 269.3,408.3 C273.2,410.3 271.0,410.9 279.3,411.7 C287.6,412.5 299.0,422.0 305.0,411.7 C311.0,401.4 310.2,377.6 305.0,367.5Z" fill="#e6af2d"/>
<path d="M305.0,375.0 C301.3,371.3 294.9,374.5 289.3,375.3 C283.7,376.1 282.2,376.0 281.0,378.3 C279.8,380.6 282.4,382.3 284.3,385.0 C286.2,387.7 284.5,388.5 289.3,390.0 C294.1,391.5 301.3,394.8 305.0,391.3 C308.7,387.8 308.7,378.7 305.0,375.0Z" fill="#f08228"/>
<path d="M60.0,415.0 C63.2,414.7 75.5,414.6 79.3,413.3 C83.1,412.1 81.0,407.5 82.7,407.5 C84.4,407.5 87.6,411.8 89.3,413.3 C91.0,414.8 91.6,417.2 92.7,416.7 C93.8,416.1 94.1,411.7 96.0,410.0 C97.9,408.3 101.0,406.7 104.3,406.7 C107.6,406.7 111.3,409.6 116.0,410.0 C120.7,410.4 129.4,408.6 132.7,409.2 C136.0,409.8 134.9,411.8 136.0,413.3 C137.1,414.8 138.2,418.0 139.3,418.3 C140.4,418.6 141.0,416.0 142.7,415.0 C144.4,414.0 145.4,412.8 149.3,412.5 C153.2,412.2 161.8,413.4 166.0,413.3 C170.2,413.2 171.5,411.8 174.3,411.7 C177.1,411.6 178.8,412.8 182.7,412.5 C186.6,412.2 194.1,410.1 197.7,410.0 C201.2,409.9 203.9,411.1 204.0,412.0 C204.1,412.9 201.2,414.8 198.0,415.5 C194.8,416.2 184.7,416.0 185.0,416.5 C185.3,417.0 194.8,417.9 200.0,418.3 C205.2,418.8 209.2,419.6 216.0,419.2 C222.8,418.8 235.4,416.1 241.0,415.8 C246.6,415.5 245.1,416.9 249.3,417.5 C253.5,418.1 256.7,418.8 266.0,419.2 C275.3,419.6 298.5,419.9 305.0,420.0 L305.0,422.5 L60.0,423.3Z" fill="#a0e632"/>
<path d="M89.3,413.8 C89.9,413.0 91.5,413.1 92.5,414.0 C93.5,414.9 94.1,416.7 93.5,417.5 C92.9,418.3 91.0,418.4 90.0,417.5 C89.0,416.6 88.7,414.6 89.3,413.8Z" fill="#e6dc32"/>
<path d="M149.3,418.0 C152.3,416.2 159.5,415.3 162.7,416.7 C165.9,418.1 166.0,422.2 163.0,424.0 C160.0,425.8 153.2,425.9 150.0,424.5 C146.8,423.1 146.3,419.8 149.3,418.0Z" fill="#e6dc32"/>
<path d="M60.0,423.3 L305.0,422.5 L305.0,431.0 L60.0,431.0Z" fill="#00dc00"/>
<path d="M80.0,428.4 C80.7,428.2 75.7,427.5 84.0,427.3 C92.3,427.1 113.5,427.0 130.0,427.0 C146.4,427.0 173.4,427.4 182.7,427.2 C192.0,426.9 184.4,426.0 186.0,425.5 C187.6,425.0 189.8,424.4 192.0,424.2 C194.2,424.0 196.7,424.1 199.3,424.2 C201.9,424.3 205.5,424.5 207.7,425.0 C209.9,425.5 207.3,426.9 212.7,427.2 C218.1,427.5 224.6,427.0 240.0,426.9 C255.4,426.8 294.2,426.6 305.0,426.5 L305.0,431.0 L80.0,431.0Z" fill="#8200dc"/>
<path d="M180.0,428.5 C180.2,427.8 182.6,426.8 184.0,426.8 C185.4,426.8 186.2,427.8 186.0,428.5 C185.8,429.2 184.4,430.0 183.0,430.0 C181.6,430.0 179.8,429.2 180.0,428.5Z" fill="#aaaaaa"/>
<path d="M210.0,427.0 C211.2,426.4 213.7,427.0 216.0,427.5 C218.3,428.0 221.2,428.4 220.0,429.0 C218.8,429.6 213.3,430.5 211.0,430.0 C208.7,429.5 208.8,427.6 210.0,427.0Z" fill="#aaaaaa"/>
<path d="M283.0,428.0 C287.0,427.1 296.0,426.5 300.0,427.2 C304.0,427.9 304.0,430.1 300.0,431.0 C296.0,431.9 287.0,431.7 283.0,431.0 C279.0,430.3 279.0,428.9 283.0,428.0Z" fill="#aaaaaa"/>
<line x1="68.8" y1="367.5" x2="297.5" y2="367.5" stroke="#aaa" stroke-width="0.8"/>
<path d="M68.8,348.3H297.5M68.8,385.7H297.5M68.8,396.7H297.5M68.8,410.5H297.5M68.8,419.6H297.5M99.3,334.5V429.2M129.8,334.5V429.2M160.3,334.5V429.2M190.8,334.5V429.2M221.3,334.5V429.2M251.8,334.5V429.2M282.3,334.5V429.2" stroke="#b4b4a4" stroke-opacity="0.8" stroke-width="0.9" stroke-dasharray="0.9 5" fill="none"/>
</g>
<rect x="68.8" y="334.5" width="228.7" height="94.7" fill="none" stroke="#000" stroke-width="1.6"/>
<rect x="154.0" y="448.8" width="143.5" height="95.2" fill="#00dc00" stroke="none" stroke-width="1.5"/>
<g clip-path="url(#c3)">
<path d="M148.0,445.0 L304.0,445.0 L304.0,473.2 C302.3,472.7 296.5,471.3 294.0,470.4 C291.5,469.5 291.5,468.3 289.0,467.9 C286.5,467.5 281.8,467.5 278.9,467.9 C275.9,468.3 274.2,469.8 271.3,470.4 C268.4,471.0 264.1,471.9 261.2,471.7 C258.2,471.5 257.0,470.4 253.6,469.1 C250.2,467.8 246.1,465.4 241.0,464.1 C235.9,462.9 228.4,461.4 223.3,461.6 C218.2,461.8 213.6,465.2 210.7,465.4 C207.8,465.6 207.4,463.6 205.7,462.8 C204.0,462.0 202.5,460.3 200.6,460.3 C198.7,460.3 196.0,461.5 194.3,462.8 C192.6,464.1 198.2,467.0 190.5,467.9 C182.8,468.8 155.1,467.9 148.0,467.9Z" fill="#aaaaaa"/>
<path d="M163.0,445.0 L304.0,445.0 L304.0,455.5 C298.1,456.4 287.7,457.8 278.9,459.5 C270.1,461.2 272.2,462.1 266.3,462.8 C260.4,463.5 259.5,463.5 253.6,462.6 C247.7,461.7 246.9,460.5 241.0,459.0 C235.1,457.5 234.3,457.2 228.4,456.2 C222.5,455.1 221.7,455.4 215.8,454.5 C209.9,453.6 208.9,453.0 203.0,452.2 C197.1,451.4 197.0,451.4 190.5,451.0 C184.0,450.6 181.4,451.0 175.0,450.6 C168.6,450.2 165.8,449.7 163.0,449.4Z" fill="#8200dc"/>
<path d="M148.0,473.0 L304.0,473.0 L304.0,474.6 L148.0,474.6Z" fill="#aaaaaa"/>
<path d="M148.0,474.4 L304.0,474.4 L304.0,481.0 L148.0,481.0Z" fill="#8200dc"/>
<path d="M148.0,480.5 L304.0,480.5 L304.0,493.1 C301.1,493.3 291.9,493.3 286.5,494.4 C281.1,495.4 275.5,497.9 271.3,499.4 C267.1,500.9 264.6,501.7 261.2,503.2 C257.8,504.7 255.3,506.6 251.1,508.3 C246.9,510.0 240.2,512.0 236.0,513.3 C231.8,514.6 229.3,514.8 225.9,515.9 C222.5,517.0 220.4,518.5 215.8,519.6 C211.2,520.7 202.7,522.0 198.1,522.2 C193.5,522.4 192.2,521.8 188.0,520.9 C183.8,520.0 177.7,517.1 172.8,517.1 C168.0,517.1 163.0,521.1 158.9,520.9 C154.8,520.7 149.8,516.8 148.0,516.0Z" fill="#aaaaaa"/>
<path d="M148.0,480.5 L304.0,480.5 L304.0,491.9 C301.9,491.7 295.3,490.4 291.5,490.6 C287.7,490.8 285.6,491.8 281.4,493.1 C277.2,494.4 270.1,496.5 266.3,498.2 C262.5,499.9 261.6,501.9 258.7,503.2 C255.8,504.5 251.5,505.4 248.6,505.8 C245.7,506.2 243.1,505.0 241.0,505.8 C238.9,506.6 238.5,509.6 236.0,510.8 C233.5,512.0 229.3,512.0 225.9,513.3 C222.5,514.6 220.0,517.3 215.8,518.4 C211.6,519.5 204.8,519.8 200.6,519.6 C196.4,519.4 192.6,518.6 190.5,517.1 C188.4,515.6 190.1,512.1 188.0,510.8 C185.9,509.5 181.7,509.9 177.9,509.5 C174.1,509.1 170.3,508.9 165.3,508.3 C160.3,507.7 150.9,506.2 148.0,505.8Z" fill="#8200dc"/>
<path d="M148.0,480.5 L281.4,480.5 L281.4,480.5 C280.6,481.1 278.1,482.2 276.4,484.3 C274.7,486.4 273.8,491.0 271.3,493.1 C268.8,495.2 265.0,496.0 261.2,496.9 C257.4,497.8 252.8,497.6 248.6,498.2 C244.4,498.8 240.2,499.6 236.0,500.7 C231.8,501.8 226.7,503.4 223.3,504.5 C219.9,505.6 221.3,506.8 215.8,507.0 C210.3,507.2 198.5,506.1 190.5,505.8 C182.5,505.6 172.1,506.1 167.8,505.5 C163.5,504.9 165.1,504.1 164.5,502.5 C163.9,500.9 164.2,498.1 164.0,496.0 C163.8,493.9 164.7,491.5 163.5,490.0 C162.3,488.5 159.6,487.7 157.0,487.0 C154.4,486.3 149.5,486.2 148.0,486.0Z" fill="#1e3cff"/>
<path d="M166.0,491.5 C166.6,491.0 167.9,491.0 168.5,491.5 C169.1,492.0 169.1,493.0 168.5,493.5 C167.9,494.0 166.6,494.0 166.0,493.5 C165.4,493.0 165.4,492.0 166.0,491.5Z" fill="#8200dc"/>
<path d="M148.0,508.0 C150.3,505.6 155.2,507.6 158.0,508.5 C160.8,509.4 158.4,510.9 160.0,512.0 C161.6,513.0 164.3,512.1 165.0,513.0 C165.7,513.9 164.6,514.8 163.0,516.0 C161.4,517.2 161.5,517.3 158.0,518.0 C154.5,518.7 150.3,521.3 148.0,519.0 C145.7,516.7 145.7,510.4 148.0,508.0Z" fill="#00dc00"/>
<path d="M239.0,506.0 C239.6,505.4 240.9,505.4 241.5,506.0 C242.1,506.6 242.1,507.9 241.5,508.5 C240.9,509.1 239.6,509.1 239.0,508.5 C238.4,507.9 238.4,506.6 239.0,506.0Z" fill="#00dc00"/>
<path d="M193.0,531.0 C195.3,529.8 195.9,528.8 203.0,528.5 C210.1,528.2 215.6,530.3 223.3,529.7 C231.0,529.1 230.1,527.8 236.0,526.0 C241.9,524.2 244.5,524.0 248.6,522.2 C252.7,520.4 251.2,518.4 253.6,518.4 C256.0,518.4 255.7,521.0 258.7,522.2 C261.7,523.4 263.9,521.3 266.3,523.4 C268.7,525.5 270.0,528.0 268.8,531.0 C267.6,534.0 266.5,534.3 261.2,536.1 C255.9,537.9 253.7,537.7 246.0,538.6 C238.3,539.5 235.4,539.0 228.4,539.9 C221.4,540.8 221.7,543.3 215.8,542.4 C209.9,541.5 208.3,538.2 203.0,536.1 C197.7,534.0 195.3,534.7 193.0,533.5 C190.7,532.3 190.7,532.2 193.0,531.0Z" fill="#a0e632"/>
<path d="M286.5,506.0 C287.4,504.2 287.9,504.7 292.0,504.5 C296.1,504.3 301.2,503.2 304.0,505.0 C306.8,506.8 307.7,510.4 304.0,512.0 C300.3,513.6 292.1,513.4 288.0,512.0 C283.9,510.6 285.6,507.8 286.5,506.0Z" fill="#a0e632"/>
<path d="M165.3,539.9 C171.2,538.4 182.3,538.0 190.5,538.6 C198.7,539.2 199.5,540.9 200.6,542.4 C201.7,543.9 203.2,544.4 195.0,545.0 C186.8,545.6 172.2,546.2 165.3,545.0 C158.4,543.8 159.4,541.4 165.3,539.9Z" fill="#a0e632"/>
<path d="M220.8,539.3 C224.3,538.8 232.5,538.6 236.0,539.0 C239.5,539.4 239.5,540.5 236.0,541.0 C232.5,541.5 224.3,541.6 220.8,541.2 C217.3,540.8 217.3,539.8 220.8,539.3Z" fill="#e6dc32"/>
<path d="M154.0,462.7H297.5M154.0,500.3H297.5M154.0,511.3H297.5M154.0,534.3H297.5M189.9,448.8V544.0M225.8,448.8V544.0M261.6,448.8V544.0" stroke="#b4b4a4" stroke-opacity="0.8" stroke-width="0.9" stroke-dasharray="0.9 5" fill="none"/>
<line x1="154.0" y1="481.5" x2="297.5" y2="481.5" stroke="#6a8cff" stroke-width="0.7"/>
<line x1="154.0" y1="506.4" x2="297.5" y2="506.4" stroke="#b080e0" stroke-width="0.7"/>
<line x1="154.0" y1="525.2" x2="297.5" y2="525.2" stroke="#9c9" stroke-width="0.7"/>
</g>
<rect x="154.0" y="448.8" width="143.5" height="95.2" fill="none" stroke="#000" stroke-width="1.6"/>
<line x1="65.3" y1="334.5" x2="68.8" y2="334.5" stroke="#000" stroke-width="1.2"/>
<text x="63.3" y="337.9" font-size="10" text-anchor="end" font-weight="bold" textLength="9.5" lengthAdjust="spacingAndGlyphs">30</text>
<line x1="65.3" y1="348.3" x2="68.8" y2="348.3" stroke="#000" stroke-width="1.2"/>
<text x="63.3" y="351.7" font-size="10" text-anchor="end" font-weight="bold" textLength="9.5" lengthAdjust="spacingAndGlyphs">50</text>
<line x1="65.3" y1="367.0" x2="68.8" y2="367.0" stroke="#000" stroke-width="1.2"/>
<text x="63.3" y="370.4" font-size="10" text-anchor="end" font-weight="bold" textLength="14.2" lengthAdjust="spacingAndGlyphs">100</text>
<line x1="65.3" y1="385.7" x2="68.8" y2="385.7" stroke="#000" stroke-width="1.2"/>
<text x="63.3" y="389.1" font-size="10" text-anchor="end" font-weight="bold" textLength="14.2" lengthAdjust="spacingAndGlyphs">200</text>
<line x1="65.3" y1="396.7" x2="68.8" y2="396.7" stroke="#000" stroke-width="1.2"/>
<text x="63.3" y="400.1" font-size="10" text-anchor="end" font-weight="bold" textLength="14.2" lengthAdjust="spacingAndGlyphs">300</text>
<line x1="65.3" y1="410.5" x2="68.8" y2="410.5" stroke="#000" stroke-width="1.2"/>
<text x="63.3" y="413.9" font-size="10" text-anchor="end" font-weight="bold" textLength="14.2" lengthAdjust="spacingAndGlyphs">500</text>
<line x1="65.3" y1="419.6" x2="68.8" y2="419.6" stroke="#000" stroke-width="1.2"/>
<text x="63.3" y="423.0" font-size="10" text-anchor="end" font-weight="bold" textLength="14.2" lengthAdjust="spacingAndGlyphs">700</text>
<line x1="65.3" y1="429.2" x2="68.8" y2="429.2" stroke="#000" stroke-width="1.2"/>
<text x="63.3" y="432.6" font-size="10" text-anchor="end" font-weight="bold" textLength="19.0" lengthAdjust="spacingAndGlyphs">1000</text>
<line x1="150.5" y1="448.8" x2="154.0" y2="448.8" stroke="#000" stroke-width="1.2"/>
<text x="148.5" y="452.2" font-size="10" text-anchor="end" font-weight="bold" textLength="9.5" lengthAdjust="spacingAndGlyphs">30</text>
<line x1="150.5" y1="462.7" x2="154.0" y2="462.7" stroke="#000" stroke-width="1.2"/>
<text x="148.5" y="466.1" font-size="10" text-anchor="end" font-weight="bold" textLength="9.5" lengthAdjust="spacingAndGlyphs">50</text>
<line x1="150.5" y1="481.5" x2="154.0" y2="481.5" stroke="#000" stroke-width="1.2"/>
<text x="148.5" y="484.9" font-size="10" text-anchor="end" font-weight="bold" textLength="14.2" lengthAdjust="spacingAndGlyphs">100</text>
<line x1="150.5" y1="500.3" x2="154.0" y2="500.3" stroke="#000" stroke-width="1.2"/>
<text x="148.5" y="503.7" font-size="10" text-anchor="end" font-weight="bold" textLength="14.2" lengthAdjust="spacingAndGlyphs">200</text>
<line x1="150.5" y1="511.3" x2="154.0" y2="511.3" stroke="#000" stroke-width="1.2"/>
<text x="148.5" y="514.7" font-size="10" text-anchor="end" font-weight="bold" textLength="14.2" lengthAdjust="spacingAndGlyphs">300</text>
<line x1="150.5" y1="525.2" x2="154.0" y2="525.2" stroke="#000" stroke-width="1.2"/>
<text x="148.5" y="528.6" font-size="10" text-anchor="end" font-weight="bold" textLength="14.2" lengthAdjust="spacingAndGlyphs">500</text>
<line x1="150.5" y1="534.3" x2="154.0" y2="534.3" stroke="#000" stroke-width="1.2"/>
<text x="148.5" y="537.7" font-size="10" text-anchor="end" font-weight="bold" textLength="14.2" lengthAdjust="spacingAndGlyphs">700</text>
<line x1="150.5" y1="544.0" x2="154.0" y2="544.0" stroke="#000" stroke-width="1.2"/>
<text x="148.5" y="547.4" font-size="10" text-anchor="end" font-weight="bold" textLength="19.0" lengthAdjust="spacingAndGlyphs">1000</text>
<line x1="68.8" y1="429.2" x2="68.8" y2="432.2" stroke="#000" stroke-width="1.2"/>
<text x="68.8" y="440.1" font-size="10" text-anchor="middle" font-weight="bold" textLength="19.2" lengthAdjust="spacingAndGlyphs">120E</text>
<line x1="99.3" y1="429.2" x2="99.3" y2="432.2" stroke="#000" stroke-width="1.2"/>
<text x="99.3" y="440.1" font-size="10" text-anchor="middle" font-weight="bold" textLength="19.2" lengthAdjust="spacingAndGlyphs">124E</text>
<line x1="129.8" y1="429.2" x2="129.8" y2="432.2" stroke="#000" stroke-width="1.2"/>
<text x="129.8" y="440.1" font-size="10" text-anchor="middle" font-weight="bold" textLength="19.2" lengthAdjust="spacingAndGlyphs">128E</text>
<line x1="160.3" y1="429.2" x2="160.3" y2="432.2" stroke="#000" stroke-width="1.2"/>
<text x="160.3" y="440.1" font-size="10" text-anchor="middle" font-weight="bold" textLength="19.2" lengthAdjust="spacingAndGlyphs">132E</text>
<line x1="190.8" y1="429.2" x2="190.8" y2="432.2" stroke="#000" stroke-width="1.2"/>
<text x="190.8" y="440.1" font-size="10" text-anchor="middle" font-weight="bold" textLength="19.2" lengthAdjust="spacingAndGlyphs">136E</text>
<line x1="221.3" y1="429.2" x2="221.3" y2="432.2" stroke="#000" stroke-width="1.2"/>
<text x="221.3" y="440.1" font-size="10" text-anchor="middle" font-weight="bold" textLength="19.2" lengthAdjust="spacingAndGlyphs">140E</text>
<line x1="251.8" y1="429.2" x2="251.8" y2="432.2" stroke="#000" stroke-width="1.2"/>
<text x="251.8" y="440.1" font-size="10" text-anchor="middle" font-weight="bold" textLength="19.2" lengthAdjust="spacingAndGlyphs">144E</text>
<line x1="282.3" y1="429.2" x2="282.3" y2="432.2" stroke="#000" stroke-width="1.2"/>
<text x="282.3" y="440.1" font-size="10" text-anchor="middle" font-weight="bold" textLength="19.2" lengthAdjust="spacingAndGlyphs">148E</text>
<line x1="154.0" y1="544.0" x2="154.0" y2="547.0" stroke="#000" stroke-width="1.2"/>
<text x="154.0" y="554.9" font-size="10" text-anchor="middle" font-weight="bold" textLength="16.0" lengthAdjust="spacingAndGlyphs">28N</text>
<line x1="189.9" y1="544.0" x2="189.9" y2="547.0" stroke="#000" stroke-width="1.2"/>
<text x="189.9" y="554.9" font-size="10" text-anchor="middle" font-weight="bold" textLength="16.0" lengthAdjust="spacingAndGlyphs">32N</text>
<line x1="225.8" y1="544.0" x2="225.8" y2="547.0" stroke="#000" stroke-width="1.2"/>
<text x="225.8" y="554.9" font-size="10" text-anchor="middle" font-weight="bold" textLength="16.0" lengthAdjust="spacingAndGlyphs">36N</text>
<line x1="261.6" y1="544.0" x2="261.6" y2="547.0" stroke="#000" stroke-width="1.2"/>
<text x="261.6" y="554.9" font-size="10" text-anchor="middle" font-weight="bold" textLength="16.0" lengthAdjust="spacingAndGlyphs">40N</text>
<line x1="297.5" y1="544.0" x2="297.5" y2="547.0" stroke="#000" stroke-width="1.2"/>
<text x="297.5" y="554.9" font-size="10" text-anchor="middle" font-weight="bold" textLength="16.0" lengthAdjust="spacingAndGlyphs">44N</text>
<text x="76.0" y="346.8" font-size="13" textLength="52.0" lengthAdjust="spacingAndGlyphs">U-wind</text>
<text x="267.0" y="346.8" font-size="13" textLength="27.0" lengthAdjust="spacingAndGlyphs">03Z</text>
<text x="160.0" y="461.5" font-size="13" textLength="52.0" lengthAdjust="spacingAndGlyphs">V-wind</text>
<text x="267.0" y="461.5" font-size="13" textLength="27.0" lengthAdjust="spacingAndGlyphs">03Z</text>
<text x="46.3" y="468.4" font-size="9.5" textLength="20.8" lengthAdjust="spacingAndGlyphs">(up)</text>
<text x="74.1" y="468.4" font-size="9.5" textLength="44.2" lengthAdjust="spacingAndGlyphs">tmp+hgt</text>
<text x="72.8" y="479.6" font-size="9.5" textLength="46.7" lengthAdjust="spacingAndGlyphs">@500hPa</text>
<text x="46.3" y="500.3" font-size="9.5" textLength="27.2" lengthAdjust="spacingAndGlyphs">(mid)</text>
<text x="80.4" y="500.3" font-size="9.5" textLength="36.0" lengthAdjust="spacingAndGlyphs">u-wind</text>
<text x="72.8" y="511.6" font-size="9.5" textLength="44.2" lengthAdjust="spacingAndGlyphs">@34.86N</text>
<text x="46.3" y="532.0" font-size="9.5" textLength="24.6" lengthAdjust="spacingAndGlyphs">(bot)</text>
<text x="77.2" y="532.0" font-size="9.5" textLength="36.0" lengthAdjust="spacingAndGlyphs">v-wind</text>
<text x="72.8" y="543.3" font-size="9.5" textLength="50.0" lengthAdjust="spacingAndGlyphs">@136.11E</text>
<path d="M67.3,560.8 L85.2,557.9 L85.2,563.6Z" fill="#00d28c" stroke="#000" stroke-width="1.1"/>
<rect x="85.2" y="557.9" width="17.7" height="5.7" fill="#00c8c8" stroke="#000" stroke-width="1.1"/>
<rect x="102.9" y="557.9" width="17.7" height="5.7" fill="#00a0ff" stroke="#000" stroke-width="1.1"/>
<rect x="120.6" y="557.9" width="17.7" height="5.7" fill="#1e3cff" stroke="#000" stroke-width="1.1"/>
<rect x="138.3" y="557.9" width="17.7" height="5.7" fill="#8200dc" stroke="#000" stroke-width="1.1"/>
<rect x="156.0" y="557.9" width="17.7" height="5.7" fill="#aaaaaa" stroke="#000" stroke-width="1.1"/>
<rect x="173.7" y="557.9" width="17.7" height="5.7" fill="#00dc00" stroke="#000" stroke-width="1.1"/>
<rect x="191.4" y="557.9" width="17.7" height="5.7" fill="#a0e632" stroke="#000" stroke-width="1.1"/>
<rect x="209.1" y="557.9" width="17.7" height="5.7" fill="#e6dc32" stroke="#000" stroke-width="1.1"/>
<rect x="226.8" y="557.9" width="17.7" height="5.7" fill="#e6af2d" stroke="#000" stroke-width="1.1"/>
<rect x="244.5" y="557.9" width="17.7" height="5.7" fill="#f08228" stroke="#000" stroke-width="1.1"/>
<rect x="262.1" y="557.9" width="17.7" height="5.7" fill="#fa3c3c" stroke="#000" stroke-width="1.1"/>
<path d="M299.6,560.8 L279.8,557.9 L279.8,563.6Z" fill="#f00082" stroke="#000" stroke-width="1.1"/>
<text x="85.8" y="570.9" font-size="9.6" text-anchor="middle" font-weight="bold" textLength="15.2" lengthAdjust="spacingAndGlyphs">−40</text>
<text x="103.5" y="570.9" font-size="9.6" text-anchor="middle" font-weight="bold" textLength="15.2" lengthAdjust="spacingAndGlyphs">−30</text>
<text x="121.2" y="570.9" font-size="9.6" text-anchor="middle" font-weight="bold" textLength="15.2" lengthAdjust="spacingAndGlyphs">−20</text>
<text x="138.9" y="570.9" font-size="9.6" text-anchor="middle" font-weight="bold" textLength="15.2" lengthAdjust="spacingAndGlyphs">−10</text>
<text x="156.6" y="570.9" font-size="9.6" text-anchor="middle" font-weight="bold" textLength="10.6" lengthAdjust="spacingAndGlyphs">−1</text>
<text x="174.3" y="570.9" font-size="9.6" text-anchor="middle" font-weight="bold" textLength="4.8" lengthAdjust="spacingAndGlyphs">1</text>
<text x="192.0" y="570.9" font-size="9.6" text-anchor="middle" font-weight="bold" textLength="9.3" lengthAdjust="spacingAndGlyphs">10</text>
<text x="209.7" y="570.9" font-size="9.6" text-anchor="middle" font-weight="bold" textLength="9.3" lengthAdjust="spacingAndGlyphs">20</text>
<text x="227.4" y="570.9" font-size="9.6" text-anchor="middle" font-weight="bold" textLength="9.3" lengthAdjust="spacingAndGlyphs">30</text>
<text x="245.1" y="570.9" font-size="9.6" text-anchor="middle" font-weight="bold" textLength="9.3" lengthAdjust="spacingAndGlyphs">40</text>
<text x="262.8" y="570.9" font-size="9.6" text-anchor="middle" font-weight="bold" textLength="9.3" lengthAdjust="spacingAndGlyphs">50</text>
<text x="280.4" y="570.9" font-size="9.6" text-anchor="middle" font-weight="bold" textLength="9.3" lengthAdjust="spacingAndGlyphs">60</text>
<path d="M350.5,103.1H743.0M350.5,135.8H743.0M350.5,168.4H743.0M350.5,201.1H743.0M350.5,233.8H743.0M350.5,266.5H743.0M350.5,299.2H743.0M378.5,70.4V331.8M406.6,70.4V331.8M434.6,70.4V331.8M462.6,70.4V331.8M490.7,70.4V331.8M518.7,70.4V331.8M546.7,70.4V331.8M574.8,70.4V331.8M602.8,70.4V331.8M630.9,70.4V331.8M658.9,70.4V331.8M686.9,70.4V331.8M715.0,70.4V331.8" stroke="#d4d4d4" stroke-width="0.8" stroke-dasharray="0.8 4.8" fill="none"/>
<text x="357.7" y="84.3" font-size="11" textLength="32.5" lengthAdjust="spacingAndGlyphs">(09Z)</text>
<text x="399.7" y="84.3" font-size="11" textLength="108.3" lengthAdjust="spacingAndGlyphs">18JST,14APR2018</text>
<text x="357.7" y="95.7" font-size="11" fill="#a000c8" textLength="32.5" lengthAdjust="spacingAndGlyphs">(12Z)</text>
<text x="399.7" y="95.7" font-size="11" fill="#a000c8" textLength="77.3" lengthAdjust="spacingAndGlyphs">21JST,14APR</text>
<text x="357.7" y="107.1" font-size="11" fill="#1e3cff" textLength="32.5" lengthAdjust="spacingAndGlyphs">(15Z)</text>
<text x="399.7" y="107.1" font-size="11" fill="#1e3cff" textLength="77.3" lengthAdjust="spacingAndGlyphs">00JST,15APR</text>
<text x="357.7" y="118.5" font-size="11" fill="#00dc00" textLength="32.5" lengthAdjust="spacingAndGlyphs">(18Z)</text>
<text x="399.7" y="118.5" font-size="11" fill="#00dc00" textLength="77.3" lengthAdjust="spacingAndGlyphs">03JST,15APR</text>
<text x="357.7" y="129.9" font-size="11" fill="#e6dc32" textLength="32.5" lengthAdjust="spacingAndGlyphs">(21Z)</text>
<text x="399.7" y="129.9" font-size="11" fill="#e6dc32" textLength="77.3" lengthAdjust="spacingAndGlyphs">06JST,15APR</text>
<text x="357.7" y="141.3" font-size="11" fill="#f08228" textLength="32.5" lengthAdjust="spacingAndGlyphs">(00Z)</text>
<text x="399.7" y="141.3" font-size="11" fill="#f08228" textLength="77.3" lengthAdjust="spacingAndGlyphs">09JST,15APR</text>
<g clip-path="url(#cm)">
<path d="M350.5,126.3 L359.3,126.8 L371.0,127.7 L379.3,123.5 L387.7,119.7 L392.7,120.2 L395.2,124.3 L391.0,130.2 L389.3,132.7 L394.3,134.3 L396.8,137.7 L399.3,134.3 L404.3,132.7 L409.3,135.2 L416.0,136.8 L419.3,134.3 L422.7,131.8 L426.0,129.3 L431.0,128.5 L434.3,125.2 L437.7,124.3 L438.5,119.3 L436.8,114.3 L434.3,107.7 L433.5,101.0 L436.8,94.3 L441.0,88.5 L446.0,86.0 L451.0,82.7 L456.0,77.7 L461.8,70.5" fill="none" stroke="#000" stroke-width="1.2" stroke-linejoin="round"/>
<path d="M440.5,136.5 L441.8,136.8 L446.0,139.3 L449.3,144.3 L448.5,148.5 L443.5,151.8 L439.3,155.2 L436.0,159.3 L432.7,161.8 L431.0,166.0 L429.5,169.5 L428.5,170.5 L427.2,168.0 L427.7,166.0 L429.3,161.0 L431.8,156.0 L434.3,151.0 L437.7,146.0 L436.0,141.0 L438.5,137.7 L440.5,136.5" fill="none" stroke="#000" stroke-width="1.2" stroke-linejoin="round"/>
<path d="M350.5,184.2 L356.0,183.0 L361.0,182.5 L366.0,185.0 L371.0,188.3 L376.0,191.7 L381.0,193.0 L386.0,192.5 L389.3,190.0 L392.7,187.5 L396.8,186.3 L401.0,188.3 L403.5,193.3 L403.5,198.3 L399.3,203.3 L394.3,207.5 L387.7,210.8 L382.7,213.3 L381.8,216.7 L385.2,220.0 L387.7,225.0 L386.0,230.0 L386.8,233.3 L383.5,236.7 L382.7,241.5 L386.0,242.3 L388.5,245.7 L394.3,249.0 L398.5,251.5 L399.3,254.8 L397.7,257.3 L401.0,261.5 L406.0,264.0 L410.2,266.2 L414.3,266.5 L419.3,268.2 L421.3,270.3 L423.5,267.3 L427.7,264.0 L431.0,261.5 L432.7,257.3 L435.2,252.3 L437.7,245.7 L441.0,241.5 L446.0,238.3 L449.3,235.0 L447.7,230.8 L451.8,228.3 L451.0,225.0 L454.3,222.5 L459.3,220.0 L466.0,216.7 L471.8,214.2 L474.3,211.7 L478.0,213.3 L478.7,215.8 L482.0,217.5 L484.5,213.3 L486.2,208.3 L483.7,206.7 L478.7,203.3 L473.7,200.0 L467.8,196.7 L463.7,193.3 L462.8,188.3 L465.3,183.3 L469.5,178.3 L470.3,173.3 L472.0,168.3 L473.5,165.0 L479.5,164.2 L483.7,164.2 L484.5,166.7 L481.2,171.7 L480.3,176.7 L482.0,182.5 L484.5,186.7 L487.0,188.3 L487.8,185.8 L486.2,181.7 L487.0,177.5 L488.7,175.8 L489.5,180.8 L492.8,184.2 L498.7,184.2 L505.3,182.5 L508.7,184.2 L509.5,186.7 L505.3,189.2 L500.3,191.7 L495.3,193.3 L492.8,195.0 L494.5,196.3 L500.3,195.0 L507.0,192.5 L513.7,190.8 L520.3,190.8 L528.7,192.0 L537.0,192.5 L545.3,191.7 L552.0,192.5 L557.8,194.2 L557.8,191.7 L560.3,186.7 L563.7,181.7 L565.3,176.7 L568.7,173.3 L573.7,170.0 L575.0,168.3 L577.5,164.2 L581.7,162.0 L586.7,160.8 L591.7,162.0 L595.8,165.0 L596.3,168.3 L590.8,169.2 L589.7,173.3 L590.0,178.3 L589.7,183.3 L588.7,188.3 L590.8,192.5 L595.0,194.7 L599.2,192.5 L601.7,188.3 L603.3,184.2 L607.5,181.7 L610.8,178.3 L611.7,174.2 L610.0,171.7 L608.0,168.3 L608.3,163.3 L610.0,157.5 L612.5,152.5 L617.5,149.7 L623.3,148.7 L628.3,148.8 L632.5,149.7 L635.0,151.7 L636.7,155.0 L638.3,159.2 L641.7,155.8 L643.3,153.3 L640.8,149.2 L639.2,144.2 L640.0,140.0 L645.0,135.8 L645.8,131.7 L646.7,127.5 L651.7,126.7 L656.7,125.0 L660.8,125.8 L664.2,130.0 L663.3,133.3 L660.0,136.7 L656.7,140.8 L654.2,145.0 L650.0,147.5 L646.7,148.7 L650.0,151.7 L650.8,156.7 L649.7,161.7 L650.8,166.7 L649.2,170.0 L646.3,171.7 L648.3,174.2 L652.5,175.3 L655.8,174.2 L657.5,170.8 L660.8,167.5 L665.0,164.2 L670.0,162.5 L675.0,160.8 L680.0,156.7 L682.5,151.7 L681.7,145.8 L680.8,140.8 L683.3,135.0 L686.7,130.5 L690.0,128.3 L695.0,125.0 L701.7,123.3 L708.0,121.7 L701.7,115.0 L697.5,106.7 L693.3,98.3 L690.8,91.7 L690.8,85.0 L693.0,76.7 L693.3,70.3" fill="none" stroke="#000" stroke-width="1.2" stroke-linejoin="round"/>
<path d="M378.5,195.0 L380.2,196.7 L376.8,201.7 L373.5,206.7 L372.7,211.7 L374.3,216.7 L370.2,219.2 L366.0,220.8 L361.8,219.2 L359.3,215.8 L361.0,213.3 L364.3,210.8 L366.8,206.7 L370.2,201.7 L374.3,197.5 L378.5,195.0" fill="none" stroke="#000" stroke-width="1.2" stroke-linejoin="round"/>
<path d="M350.5,219.2 L356.0,219.2 L358.5,218.3 L356.8,223.3 L356.0,230.0 L357.7,235.0 L361.0,238.3 L360.2,242.3 L363.5,245.3 L359.3,248.3 L356.0,249.8 L350.5,254.8" fill="none" stroke="#000" stroke-width="1.2" stroke-linejoin="round"/>
<path d="M671.7,99.2 L675.8,95.8 L680.0,94.7 L682.5,98.3 L685.0,103.3 L686.7,106.3 L681.7,105.3 L677.5,104.2 L675.0,101.7 L671.7,99.2" fill="none" stroke="#000" stroke-width="1.2" stroke-linejoin="round"/>
<path d="M680.0,95.0 L677.5,100.0 L685.0,103.3" fill="none" stroke="#000" stroke-width="1.2" stroke-linejoin="round"/>
<ellipse cx="625.4" cy="186.3" rx="2.6" ry="3.4" fill="none" stroke="#000" stroke-width="1.2" transform="rotate(-15 625.4 186.3)"/>
<ellipse cx="632.4" cy="229" rx="2.3" ry="1.9" fill="none" stroke="#000" stroke-width="1.2" transform="rotate(0 632.4 229)"/>
<ellipse cx="647.8" cy="293" rx="3.2" ry="2.2" fill="none" stroke="#000" stroke-width="1.2" transform="rotate(35 647.8 293)"/>
<path d="M617.1,212 L618.6,207.2 M636.3,244 L637.3,240.8" stroke="#000" stroke-width="1.6" fill="none" stroke-linecap="round"/>
</g>
<rect x="350.5" y="70.4" width="392.5" height="261.4" fill="none" stroke="#000" stroke-width="1.0"/>
<line x1="743.0" y1="70.4" x2="743.0" y2="331.8" stroke="#000" stroke-width="1.4"/>
<line x1="350.5" y1="69.9" x2="350.5" y2="332.6" stroke="#000" stroke-width="1.7"/>
<line x1="349.7" y1="331.8" x2="743.5" y2="331.8" stroke="#000" stroke-width="1.7"/>
<line x1="347.0" y1="70.4" x2="350.5" y2="70.4" stroke="#000" stroke-width="1.2"/>
<text x="344.5" y="73.8" font-size="10" text-anchor="end" font-weight="bold" textLength="23.4" lengthAdjust="spacingAndGlyphs">36.5N</text>
<line x1="347.0" y1="103.1" x2="350.5" y2="103.1" stroke="#000" stroke-width="1.2"/>
<text x="344.5" y="106.5" font-size="10" text-anchor="end" font-weight="bold" textLength="16.0" lengthAdjust="spacingAndGlyphs">36N</text>
<line x1="347.0" y1="135.8" x2="350.5" y2="135.8" stroke="#000" stroke-width="1.2"/>
<text x="344.5" y="139.2" font-size="10" text-anchor="end" font-weight="bold" textLength="23.4" lengthAdjust="spacingAndGlyphs">35.5N</text>
<line x1="347.0" y1="168.4" x2="350.5" y2="168.4" stroke="#000" stroke-width="1.2"/>
<text x="344.5" y="171.8" font-size="10" text-anchor="end" font-weight="bold" textLength="16.0" lengthAdjust="spacingAndGlyphs">35N</text>
<line x1="347.0" y1="201.1" x2="350.5" y2="201.1" stroke="#000" stroke-width="1.2"/>
<text x="344.5" y="204.5" font-size="10" text-anchor="end" font-weight="bold" textLength="23.4" lengthAdjust="spacingAndGlyphs">34.5N</text>
<line x1="347.0" y1="233.8" x2="350.5" y2="233.8" stroke="#000" stroke-width="1.2"/>
<text x="344.5" y="237.2" font-size="10" text-anchor="end" font-weight="bold" textLength="16.0" lengthAdjust="spacingAndGlyphs">34N</text>
<line x1="347.0" y1="266.5" x2="350.5" y2="266.5" stroke="#000" stroke-width="1.2"/>
<text x="344.5" y="269.9" font-size="10" text-anchor="end" font-weight="bold" textLength="23.4" lengthAdjust="spacingAndGlyphs">33.5N</text>
<line x1="347.0" y1="299.2" x2="350.5" y2="299.2" stroke="#000" stroke-width="1.2"/>
<text x="344.5" y="302.6" font-size="10" text-anchor="end" font-weight="bold" textLength="16.0" lengthAdjust="spacingAndGlyphs">33N</text>
<line x1="347.0" y1="331.8" x2="350.5" y2="331.8" stroke="#000" stroke-width="1.2"/>
<text x="344.5" y="335.2" font-size="10" text-anchor="end" font-weight="bold" textLength="23.4" lengthAdjust="spacingAndGlyphs">32.5N</text>
<line x1="350.5" y1="331.8" x2="350.5" y2="334.8" stroke="#000" stroke-width="1.2"/>
<text x="350.5" y="343.0" font-size="10" text-anchor="middle" font-weight="bold" textLength="26.7" lengthAdjust="spacingAndGlyphs">134.5E</text>
<line x1="378.5" y1="331.8" x2="378.5" y2="334.8" stroke="#000" stroke-width="1.2"/>
<text x="378.5" y="343.0" font-size="10" text-anchor="middle" font-weight="bold" textLength="19.2" lengthAdjust="spacingAndGlyphs">135E</text>
<line x1="406.6" y1="331.8" x2="406.6" y2="334.8" stroke="#000" stroke-width="1.2"/>
<text x="406.6" y="343.0" font-size="10" text-anchor="middle" font-weight="bold" textLength="26.7" lengthAdjust="spacingAndGlyphs">135.5E</text>
<line x1="434.6" y1="331.8" x2="434.6" y2="334.8" stroke="#000" stroke-width="1.2"/>
<text x="434.6" y="343.0" font-size="10" text-anchor="middle" font-weight="bold" textLength="19.2" lengthAdjust="spacingAndGlyphs">136E</text>
<line x1="462.6" y1="331.8" x2="462.6" y2="334.8" stroke="#000" stroke-width="1.2"/>
<text x="462.6" y="343.0" font-size="10" text-anchor="middle" font-weight="bold" textLength="26.7" lengthAdjust="spacingAndGlyphs">136.5E</text>
<line x1="490.7" y1="331.8" x2="490.7" y2="334.8" stroke="#000" stroke-width="1.2"/>
<text x="490.7" y="343.0" font-size="10" text-anchor="middle" font-weight="bold" textLength="19.2" lengthAdjust="spacingAndGlyphs">137E</text>
<line x1="518.7" y1="331.8" x2="518.7" y2="334.8" stroke="#000" stroke-width="1.2"/>
<text x="518.7" y="343.0" font-size="10" text-anchor="middle" font-weight="bold" textLength="26.7" lengthAdjust="spacingAndGlyphs">137.5E</text>
<line x1="546.7" y1="331.8" x2="546.7" y2="334.8" stroke="#000" stroke-width="1.2"/>
<text x="546.7" y="343.0" font-size="10" text-anchor="middle" font-weight="bold" textLength="19.2" lengthAdjust="spacingAndGlyphs">138E</text>
<line x1="574.8" y1="331.8" x2="574.8" y2="334.8" stroke="#000" stroke-width="1.2"/>
<text x="574.8" y="343.0" font-size="10" text-anchor="middle" font-weight="bold" textLength="26.7" lengthAdjust="spacingAndGlyphs">138.5E</text>
<line x1="602.8" y1="331.8" x2="602.8" y2="334.8" stroke="#000" stroke-width="1.2"/>
<text x="602.8" y="343.0" font-size="10" text-anchor="middle" font-weight="bold" textLength="19.2" lengthAdjust="spacingAndGlyphs">139E</text>
<line x1="630.9" y1="331.8" x2="630.9" y2="334.8" stroke="#000" stroke-width="1.2"/>
<text x="630.9" y="343.0" font-size="10" text-anchor="middle" font-weight="bold" textLength="26.7" lengthAdjust="spacingAndGlyphs">139.5E</text>
<line x1="658.9" y1="331.8" x2="658.9" y2="334.8" stroke="#000" stroke-width="1.2"/>
<text x="658.9" y="343.0" font-size="10" text-anchor="middle" font-weight="bold" textLength="19.2" lengthAdjust="spacingAndGlyphs">140E</text>
<line x1="686.9" y1="331.8" x2="686.9" y2="334.8" stroke="#000" stroke-width="1.2"/>
<text x="686.9" y="343.0" font-size="10" text-anchor="middle" font-weight="bold" textLength="26.7" lengthAdjust="spacingAndGlyphs">140.5E</text>
<line x1="715.0" y1="331.8" x2="715.0" y2="334.8" stroke="#000" stroke-width="1.2"/>
<text x="715.0" y="343.0" font-size="10" text-anchor="middle" font-weight="bold" textLength="19.2" lengthAdjust="spacingAndGlyphs">141E</text>
<line x1="743.0" y1="331.8" x2="743.0" y2="334.8" stroke="#000" stroke-width="1.2"/>
<text x="743.0" y="343.0" font-size="10" text-anchor="middle" font-weight="bold" textLength="26.7" lengthAdjust="spacingAndGlyphs">141.5E</text>
<text x="418.8" y="61.6" font-size="18.6" textLength="60.1" lengthAdjust="spacingAndGlyphs">Sonde</text>
<text x="492.1" y="61.6" font-size="18.6" textLength="82.6" lengthAdjust="spacingAndGlyphs">Tracking</text>
<text x="588.6" y="61.6" font-size="18.6" textLength="87.1" lengthAdjust="spacingAndGlyphs">Forecast</text>
<text x="736.4" y="309.0" font-size="10" text-anchor="end" textLength="86.8" lengthAdjust="spacingAndGlyphs">VUP=  6.0 m/s</text>
<text x="736.4" y="318.7" font-size="10" text-anchor="end" textLength="96.9" lengthAdjust="spacingAndGlyphs">VDW= −3.0 m/s</text>
<text x="736.4" y="328.3" font-size="10" text-anchor="end" textLength="113.6" lengthAdjust="spacingAndGlyphs">Burst Alt= 34.0 km</text>
<path d="M440.1,177.9 C440.5,177.9 441.3,178.3 442.6,177.9 C443.9,177.5 445.9,176.4 448.0,175.6 C450.1,174.8 453.1,173.8 455.3,172.8 C457.5,171.8 458.9,170.8 461.0,169.6 C463.1,168.3 465.7,166.8 467.9,165.3 C470.1,163.8 471.7,162.1 474.2,160.8 C476.7,159.5 480.3,158.5 483.0,157.7 C485.7,156.9 488.3,156.4 490.6,156.2 C492.9,155.9 495.0,156.1 496.9,156.2 C498.8,156.3 500.2,156.8 502.0,156.8 C503.8,156.8 506.0,156.2 507.9,156.2 C509.8,156.2 511.1,156.6 513.3,156.7 C515.5,156.8 518.8,156.9 520.9,157.0 C523.0,157.1 525.1,157.2 526.0,157.3" fill="none" stroke="#f08228" stroke-width="1.6"/>
<path d="M526.0,157.3 C526.7,157.3 528.2,157.4 530.0,157.4 C531.8,157.4 534.5,157.7 537.0,157.5 C539.5,157.3 542.5,156.8 545.3,156.3 C548.1,155.8 550.9,155.3 553.7,154.7 C556.5,154.1 559.3,153.3 562.0,152.5 C564.7,151.7 567.0,151.1 570.0,149.6 C573.0,148.1 576.7,145.5 580.0,143.3 C583.3,141.1 586.6,138.6 590.0,136.4 C593.4,134.2 596.7,132.4 600.1,130.4 C603.5,128.4 606.8,126.1 610.2,124.3 C613.6,122.5 616.9,121.0 620.3,119.7 C623.7,118.4 627.4,117.7 630.4,116.7 C633.4,115.7 636.0,114.7 638.5,113.7 C641.0,112.7 644.4,111.2 645.6,110.7" fill="none" stroke="#f08228" stroke-width="1.5" stroke-dasharray="3.4 1.7"/>
<path d="M440.1,177.9 C440.5,177.8 441.3,177.7 442.6,177.2 C443.9,176.7 445.9,175.7 448.0,174.8 C450.1,173.9 453.1,172.7 455.3,171.6 C457.5,170.5 458.9,169.6 461.0,168.4 C463.1,167.2 465.7,165.8 467.9,164.6 C470.1,163.4 471.7,162.4 474.2,161.5 C476.7,160.6 479.9,159.4 483.0,158.9 C486.1,158.4 490.2,158.3 493.1,158.3 C496.1,158.3 498.5,158.9 500.7,158.7 C502.9,158.5 504.5,157.3 506.4,157.0 C508.3,156.7 510.0,156.9 512.0,157.0 C514.0,157.1 516.1,157.4 518.4,157.4 C520.7,157.4 524.7,157.2 526.0,157.2" fill="none" stroke="#e6dc32" stroke-width="1.6"/>
<path d="M526.0,157.2 C526.7,157.2 528.2,157.0 530.0,157.0 C531.8,157.0 534.5,157.1 537.0,157.0 C539.5,156.9 542.5,157.0 545.3,156.7 C548.1,156.4 550.9,155.7 553.7,155.3 C556.5,154.9 559.3,154.8 562.0,154.2 C564.7,153.6 567.0,152.9 570.0,151.8 C573.0,150.7 576.7,149.1 580.0,147.7 C583.3,146.3 586.6,144.9 590.0,143.5 C593.4,142.1 596.7,140.8 600.1,139.4 C603.5,138.0 607.5,136.0 610.2,134.9 C612.9,133.8 614.1,133.9 616.3,132.9 C618.5,131.9 620.9,130.5 623.3,128.8 C625.6,127.1 628.5,124.3 630.4,122.8 C632.2,121.3 633.2,120.9 634.4,119.7 C635.6,118.5 637.0,116.4 637.5,115.7" fill="none" stroke="#e6dc32" stroke-width="1.5" stroke-dasharray="3.4 1.7"/>
<path d="M440.1,177.9 C440.7,177.4 442.3,176.0 443.8,175.0 C445.3,174.0 447.1,172.9 449.0,171.8 C450.9,170.7 453.1,169.6 455.3,168.6 C457.5,167.6 459.9,166.6 462.0,165.8 C464.1,165.0 465.9,164.6 467.9,164.0 C469.9,163.4 471.7,162.7 474.2,162.5 C476.7,162.3 480.3,162.5 483.0,162.7 C485.7,162.9 488.3,163.6 490.6,163.7 C492.9,163.8 494.6,163.5 496.9,163.0 C499.2,162.5 502.0,161.3 504.5,160.5 C507.0,159.7 509.3,159.0 512.0,158.3 C514.7,157.6 518.6,156.8 520.9,156.4 C523.2,156.0 525.1,156.0 526.0,155.9" fill="none" stroke="#00dc00" stroke-width="1.6"/>
<path d="M526.0,155.9 C526.7,155.9 528.2,155.7 530.0,155.8 C531.8,155.9 534.5,156.0 537.0,156.3 C539.5,156.6 542.5,157.0 545.3,157.5 C548.1,158.0 550.9,158.8 553.7,159.2 C556.5,159.6 559.3,160.0 562.0,160.0 C564.7,160.0 567.0,159.9 570.0,159.4 C573.0,158.9 576.7,158.2 580.0,157.2 C583.3,156.2 586.6,154.7 590.0,153.6 C593.4,152.5 596.7,151.8 600.1,150.6 C603.5,149.4 606.8,148.0 610.2,146.5 C613.6,145.0 617.4,143.0 620.3,141.5 C623.2,140.0 625.7,138.6 627.4,137.4 C629.1,136.2 629.6,135.6 630.4,134.4 C631.2,133.2 631.5,131.6 632.4,130.4 C633.2,129.2 634.1,128.6 635.5,127.3 C636.9,126.0 638.0,125.1 640.5,122.8 C643.0,120.5 647.2,116.7 650.6,113.7 C654.0,110.7 645.9,117.6 660.7,104.6 C675.5,91.6 726.1,47.0 739.2,35.5" fill="none" stroke="#00dc00" stroke-width="1.5" stroke-dasharray="3.4 1.7"/>
<path d="M440.1,177.9 C440.6,177.3 441.9,175.7 443.2,174.6 C444.5,173.5 446.0,172.3 448.0,171.2 C450.0,170.1 453.0,168.7 455.3,167.8 C457.6,166.9 459.9,166.3 462.0,165.8 C464.1,165.3 464.8,164.8 467.9,164.8 C471.0,164.8 476.9,165.5 480.5,165.9 C484.1,166.3 486.8,166.8 489.3,167.1 C491.8,167.4 493.5,167.6 495.7,167.5 C497.9,167.4 499.9,166.9 502.6,166.5 C505.3,166.1 508.9,165.4 512.0,165.0 C515.0,164.6 518.9,164.2 520.9,164.1 C522.9,164.0 523.5,164.3 524.0,164.3" fill="none" stroke="#1e3cff" stroke-width="1.6"/>
<path d="M524.0,164.3 C524.8,164.5 526.5,164.8 528.7,165.3 C530.9,165.8 534.2,166.7 537.0,167.5 C539.8,168.3 542.5,169.2 545.3,170.0 C548.1,170.8 550.9,171.5 553.7,172.0 C556.5,172.5 559.3,172.9 562.0,173.0 C564.7,173.1 565.9,173.0 570.0,172.5 C574.1,172.0 581.2,171.1 586.7,170.0 C592.2,168.9 598.3,167.2 603.3,165.8 C608.3,164.4 613.4,163.2 616.7,161.7 C620.0,160.2 621.5,158.6 623.3,156.7 C625.1,154.8 626.7,152.6 627.5,150.0 C628.3,147.4 627.8,142.5 627.9,141.0" fill="none" stroke="#1e3cff" stroke-width="1.5" stroke-dasharray="3.4 1.7"/>
<path d="M440.1,177.9 C440.5,177.4 441.5,176.0 442.6,174.8 C443.8,173.7 444.9,172.2 447.0,171.0 C449.1,169.8 452.8,168.1 455.3,167.4 C457.8,166.7 459.3,166.9 462.0,166.9 C464.7,166.9 468.6,166.9 471.7,167.5 C474.8,168.1 477.6,169.5 480.5,170.3 C483.4,171.2 486.2,172.1 489.3,172.6 C492.4,173.1 495.4,173.1 499.2,173.1 C503.0,173.1 508.8,172.6 512.0,172.6 C515.2,172.6 516.4,172.9 518.4,173.1 C520.4,173.3 523.1,173.5 524.0,173.6" fill="none" stroke="#000000" stroke-width="1.6"/>
<path d="M524.0,173.6 C524.8,173.7 526.5,173.8 528.7,174.4 C530.9,175.1 534.2,176.4 537.0,177.5 C539.8,178.6 542.5,179.7 545.3,180.8 C548.1,181.9 550.9,183.3 553.7,184.2 C556.5,185.1 559.3,185.8 562.0,186.3 C564.7,186.9 565.9,187.4 570.0,187.5 C574.1,187.6 582.0,187.6 586.7,187.0 C591.4,186.4 595.0,185.4 598.3,184.2 C601.6,183.0 604.2,181.5 606.7,180.0 C609.2,178.5 611.5,176.5 613.3,175.0 C615.0,173.5 616.6,171.8 617.2,171.2" fill="none" stroke="#000000" stroke-width="1.5" stroke-dasharray="3.4 1.7"/>
<path d="M440.1,177.9 C440.5,177.3 441.5,175.4 442.6,174.1 C443.8,172.8 444.9,171.5 447.0,170.3 C449.1,169.1 452.8,167.6 455.3,166.8 C457.8,166.0 459.9,165.8 462.0,165.6 C464.1,165.3 465.2,165.1 467.9,165.3 C470.6,165.5 474.9,166.2 478.0,166.8 C481.1,167.4 483.9,168.2 486.8,168.8 C489.8,169.4 493.2,170.0 495.7,170.1 C498.2,170.2 499.3,169.4 502.0,169.3 C504.7,169.2 508.9,169.5 512.0,169.5 C515.1,169.5 518.9,169.2 520.9,169.3 C522.9,169.4 523.5,169.9 524.0,170.0" fill="none" stroke="#a000c8" stroke-width="1.6"/>
<path d="M524.0,170.0 C524.8,170.3 526.5,170.9 528.7,171.7 C530.9,172.5 534.2,173.9 537.0,175.0 C539.8,176.1 542.5,177.3 545.3,178.3 C548.1,179.3 550.9,180.2 553.7,180.8 C556.5,181.4 559.3,181.8 562.0,182.0 C564.7,182.2 565.9,182.0 570.0,181.9 C574.1,181.8 581.7,182.4 586.7,181.7 C591.7,181.0 595.8,179.2 600.0,177.5 C604.2,175.8 608.8,173.6 611.7,171.7 C614.6,169.8 616.0,167.7 617.5,165.8 C619.0,163.9 620.0,161.4 620.5,160.5" fill="none" stroke="#a000c8" stroke-width="1.5" stroke-dasharray="3.4 1.7"/>
<rect x="505.5" y="153.8" width="4.8" height="4.8" fill="#f08228"/>
<circle cx="645.6" cy="110.7" r="2.6" fill="#f08228"/>
<rect x="504.0" y="154.6" width="4.8" height="4.8" fill="#e6dc32"/>
<rect x="502.1" y="158.1" width="4.8" height="4.8" fill="#00dc00"/>
<rect x="500.2" y="164.1" width="4.8" height="4.8" fill="#1e3cff"/>
<circle cx="627.9" cy="141.0" r="2.6" fill="#1e3cff"/>
<rect x="499.6" y="166.9" width="4.8" height="4.8" fill="#a000c8"/>
<circle cx="620.5" cy="160.5" r="2.6" fill="#a000c8"/>
<rect x="496.8" y="170.7" width="4.8" height="4.8" fill="#000000"/>
<circle cx="617.2" cy="171.2" r="2.6" fill="#000000"/>
<rect x="330.3" y="366.1" width="196.7" height="190.6" fill="#fff" stroke="#000" stroke-width="1.4"/>
<g clip-path="url(#ch1)">
<ellipse cx="428.5" cy="461.4" rx="24.5" ry="23.8" fill="none" stroke="#000" stroke-width="0.95"/>
<ellipse cx="428.5" cy="461.4" rx="49.0" ry="47.6" fill="none" stroke="#000" stroke-width="0.95"/>
<ellipse cx="428.5" cy="461.4" rx="73.5" ry="71.4" fill="none" stroke="#000" stroke-width="0.95"/>
<ellipse cx="428.5" cy="461.4" rx="98.0" ry="95.2" fill="none" stroke="#000" stroke-width="0.95"/>
<path d="M330.3,461.4H527.0M428.5,366.1V556.7M330.5,459.5v3.8M426.6,366.2h3.8M338.7,459.5v3.8M426.6,374.1h3.8M346.8,459.5v3.8M426.6,382.1h3.8M355.0,459.5v3.8M426.6,390.0h3.8M363.2,459.5v3.8M426.6,397.9h3.8M371.3,459.5v3.8M426.6,405.9h3.8M379.5,459.5v3.8M426.6,413.8h3.8M387.7,459.5v3.8M426.6,421.7h3.8M395.8,459.5v3.8M426.6,429.7h3.8M404.0,459.5v3.8M426.6,437.6h3.8M412.2,459.5v3.8M426.6,445.5h3.8M420.3,459.5v3.8M426.6,453.5h3.8M436.7,459.5v3.8M426.6,469.3h3.8M444.8,459.5v3.8M426.6,477.3h3.8M453.0,459.5v3.8M426.6,485.2h3.8M461.2,459.5v3.8M426.6,493.1h3.8M469.3,459.5v3.8M426.6,501.1h3.8M477.5,459.5v3.8M426.6,509.0h3.8M485.7,459.5v3.8M426.6,516.9h3.8M493.8,459.5v3.8M426.6,524.9h3.8M502.0,459.5v3.8M426.6,532.8h3.8M510.2,459.5v3.8M426.6,540.7h3.8M518.3,459.5v3.8M426.6,548.7h3.8M526.5,459.5v3.8M426.6,556.6h3.8" stroke="#000" stroke-width="0.85" fill="none"/>
<text x="411.5" y="481.6" font-size="9" text-anchor="middle" textLength="10.5" lengthAdjust="spacingAndGlyphs" transform="rotate(-47 411.5 478.5)">15</text>
<text x="394.5" y="498.1" font-size="9" text-anchor="middle" textLength="10.5" lengthAdjust="spacingAndGlyphs" transform="rotate(-47 394.5 495.0)">30</text>
<text x="377.6" y="514.6" font-size="9" text-anchor="middle" textLength="10.5" lengthAdjust="spacingAndGlyphs" transform="rotate(-47 377.6 511.5)">45</text>
<text x="360.6" y="531.1" font-size="9" text-anchor="middle" textLength="10.5" lengthAdjust="spacingAndGlyphs" transform="rotate(-47 360.6 528.0)">60</text>
<path d="M425.7,457.7 L418.8,443.8 L418.4,440.3 L422.6,435.9 L434.8,431.7" fill="none" stroke="#fa3c3c" stroke-width="1.8" stroke-linejoin="round" stroke-linecap="round"/>
<path d="M434.8,431.7 L451.9,429.3 L459.7,439.0" fill="none" stroke="#f08228" stroke-width="1.8" stroke-linejoin="round" stroke-linecap="round"/>
<path d="M459.7,439.0 L462.6,439.9 L465.8,439.3 L466.4,437.5" fill="none" stroke="#e6dc32" stroke-width="1.8" stroke-linejoin="round" stroke-linecap="round"/>
<path d="M466.4,437.5 L471.4,447.2 L484.4,462.4" fill="none" stroke="#00dc00" stroke-width="1.8" stroke-linejoin="round" stroke-linecap="round"/>
<path d="M484.4,462.4 L493.6,461.1 L490.2,480.5 L473.3,478.8" fill="none" stroke="#00c8c8" stroke-width="1.8" stroke-linejoin="round" stroke-linecap="round"/>
<path d="M473.3,478.8 L445.6,462.0 L437.3,461.8" fill="none" stroke="#1e3cff" stroke-width="1.8" stroke-linejoin="round" stroke-linecap="round"/>
</g>
<rect x="330.3" y="366.1" width="196.7" height="190.6" fill="none" stroke="#000" stroke-width="1.3"/>
<text x="335.3" y="378.6" font-size="13.5" textLength="40.3" lengthAdjust="spacingAndGlyphs">18JST</text>
<text x="523.3" y="378.6" font-size="13.5" text-anchor="end" textLength="43.6" lengthAdjust="spacingAndGlyphs">14APR</text>
<text x="333.5" y="470.4" font-size="8.6" fill="#fa3c3c" textLength="37.0" lengthAdjust="spacingAndGlyphs" stroke="#fa3c3c" stroke-width="0.35">≥850hPa</text>
<text x="333.5" y="476.7" font-size="8.6" fill="#f08228" textLength="21.9" lengthAdjust="spacingAndGlyphs" stroke="#f08228" stroke-width="0.35">&lt;850</text>
<text x="333.5" y="483.0" font-size="8.6" fill="#e6dc32" textLength="21.9" lengthAdjust="spacingAndGlyphs" stroke="#e6dc32" stroke-width="0.35">&lt;700</text>
<text x="333.5" y="489.3" font-size="8.6" fill="#00dc00" textLength="21.9" lengthAdjust="spacingAndGlyphs" stroke="#00dc00" stroke-width="0.35">&lt;500</text>
<text x="333.5" y="495.6" font-size="8.6" fill="#00c8c8" textLength="21.9" lengthAdjust="spacingAndGlyphs" stroke="#00c8c8" stroke-width="0.35">&lt;250</text>
<text x="333.5" y="501.9" font-size="8.6" fill="#1e3cff" textLength="21.9" lengthAdjust="spacingAndGlyphs" stroke="#1e3cff" stroke-width="0.35">&lt;100</text>
<text x="334.4" y="550.6" font-size="10" textLength="28.6" lengthAdjust="spacingAndGlyphs">ms−1</text>
<text x="523.3" y="544.2" font-size="10" text-anchor="end" textLength="28.9" lengthAdjust="spacingAndGlyphs">34.9N</text>
<text x="523.3" y="553.9" font-size="10" text-anchor="end" textLength="47.2" lengthAdjust="spacingAndGlyphs">136.125E</text>
<rect x="546.7" y="366.1" width="196.6" height="190.6" fill="#fff" stroke="#000" stroke-width="1.4"/>
<g clip-path="url(#ch2)">
<ellipse cx="644.8" cy="461.4" rx="24.5" ry="23.8" fill="none" stroke="#000" stroke-width="0.95"/>
<ellipse cx="644.8" cy="461.4" rx="49.0" ry="47.6" fill="none" stroke="#000" stroke-width="0.95"/>
<ellipse cx="644.8" cy="461.4" rx="73.5" ry="71.4" fill="none" stroke="#000" stroke-width="0.95"/>
<ellipse cx="644.8" cy="461.4" rx="98.0" ry="95.2" fill="none" stroke="#000" stroke-width="0.95"/>
<path d="M546.7,461.4H743.3M644.8,366.1V556.7M546.8,459.5v3.8M642.9,366.2h3.8M555.0,459.5v3.8M642.9,374.1h3.8M563.1,459.5v3.8M642.9,382.1h3.8M571.3,459.5v3.8M642.9,390.0h3.8M579.5,459.5v3.8M642.9,397.9h3.8M587.6,459.5v3.8M642.9,405.9h3.8M595.8,459.5v3.8M642.9,413.8h3.8M604.0,459.5v3.8M642.9,421.7h3.8M612.1,459.5v3.8M642.9,429.7h3.8M620.3,459.5v3.8M642.9,437.6h3.8M628.5,459.5v3.8M642.9,445.5h3.8M636.6,459.5v3.8M642.9,453.5h3.8M653.0,459.5v3.8M642.9,469.3h3.8M661.1,459.5v3.8M642.9,477.3h3.8M669.3,459.5v3.8M642.9,485.2h3.8M677.5,459.5v3.8M642.9,493.1h3.8M685.6,459.5v3.8M642.9,501.1h3.8M693.8,459.5v3.8M642.9,509.0h3.8M702.0,459.5v3.8M642.9,516.9h3.8M710.1,459.5v3.8M642.9,524.9h3.8M718.3,459.5v3.8M642.9,532.8h3.8M726.5,459.5v3.8M642.9,540.7h3.8M734.6,459.5v3.8M642.9,548.7h3.8M742.8,459.5v3.8M642.9,556.6h3.8" stroke="#000" stroke-width="0.85" fill="none"/>
<text x="627.8" y="481.6" font-size="9" text-anchor="middle" textLength="10.5" lengthAdjust="spacingAndGlyphs" transform="rotate(-47 627.8 478.5)">15</text>
<text x="610.8" y="498.1" font-size="9" text-anchor="middle" textLength="10.5" lengthAdjust="spacingAndGlyphs" transform="rotate(-47 610.8 495.0)">30</text>
<text x="593.9" y="514.6" font-size="9" text-anchor="middle" textLength="10.5" lengthAdjust="spacingAndGlyphs" transform="rotate(-47 593.9 511.5)">45</text>
<text x="576.9" y="531.1" font-size="9" text-anchor="middle" textLength="10.5" lengthAdjust="spacingAndGlyphs" transform="rotate(-47 576.9 528.0)">60</text>
<path d="M648.0,460.8 L656.6,460.1 L664.2,461.1 L666.7,463.7 L668.6,466.8 L677.4,463.7" fill="none" stroke="#fa3c3c" stroke-width="1.8" stroke-linejoin="round" stroke-linecap="round"/>
<path d="M677.4,463.7 L678.1,458.0 L680.0,449.8 L683.1,446.6" fill="none" stroke="#f08228" stroke-width="1.8" stroke-linejoin="round" stroke-linecap="round"/>
<path d="M683.1,446.6 L691.3,445.7" fill="none" stroke="#e6dc32" stroke-width="1.8" stroke-linejoin="round" stroke-linecap="round"/>
<path d="M691.3,445.7 L700.8,435.9 L699.8,423.9 L701.4,422.0" fill="none" stroke="#00dc00" stroke-width="1.8" stroke-linejoin="round" stroke-linecap="round"/>
<path d="M701.4,422.0 L706.2,454.2 L688.8,458.6" fill="none" stroke="#00c8c8" stroke-width="1.8" stroke-linejoin="round" stroke-linecap="round"/>
<path d="M688.8,458.6 L668.0,461.8 L658.5,463.7 L650.3,463.0 L649.9,461.8" fill="none" stroke="#1e3cff" stroke-width="1.8" stroke-linejoin="round" stroke-linecap="round"/>
</g>
<rect x="546.7" y="366.1" width="196.6" height="190.6" fill="none" stroke="#000" stroke-width="1.3"/>
<text x="551.7" y="378.6" font-size="13.5" textLength="40.3" lengthAdjust="spacingAndGlyphs">06JST</text>
<text x="739.6" y="378.6" font-size="13.5" text-anchor="end" textLength="43.6" lengthAdjust="spacingAndGlyphs">15APR</text>
<text x="549.9" y="470.4" font-size="8.6" fill="#fa3c3c" textLength="37.0" lengthAdjust="spacingAndGlyphs" stroke="#fa3c3c" stroke-width="0.35">≥850hPa</text>
<text x="549.9" y="476.7" font-size="8.6" fill="#f08228" textLength="21.9" lengthAdjust="spacingAndGlyphs" stroke="#f08228" stroke-width="0.35">&lt;850</text>
<text x="549.9" y="483.0" font-size="8.6" fill="#e6dc32" textLength="21.9" lengthAdjust="spacingAndGlyphs" stroke="#e6dc32" stroke-width="0.35">&lt;700</text>
<text x="549.9" y="489.3" font-size="8.6" fill="#00dc00" textLength="21.9" lengthAdjust="spacingAndGlyphs" stroke="#00dc00" stroke-width="0.35">&lt;500</text>
<text x="549.9" y="495.6" font-size="8.6" fill="#00c8c8" textLength="21.9" lengthAdjust="spacingAndGlyphs" stroke="#00c8c8" stroke-width="0.35">&lt;250</text>
<text x="549.9" y="501.9" font-size="8.6" fill="#1e3cff" textLength="21.9" lengthAdjust="spacingAndGlyphs" stroke="#1e3cff" stroke-width="0.35">&lt;100</text>
<text x="550.8" y="550.6" font-size="10" textLength="28.6" lengthAdjust="spacingAndGlyphs">ms−1</text>
<text x="739.6" y="544.2" font-size="10" text-anchor="end" textLength="28.9" lengthAdjust="spacingAndGlyphs">34.9N</text>
<text x="739.6" y="553.9" font-size="10" text-anchor="end" textLength="47.2" lengthAdjust="spacingAndGlyphs">136.125E</text>
</svg>
</body></html>
